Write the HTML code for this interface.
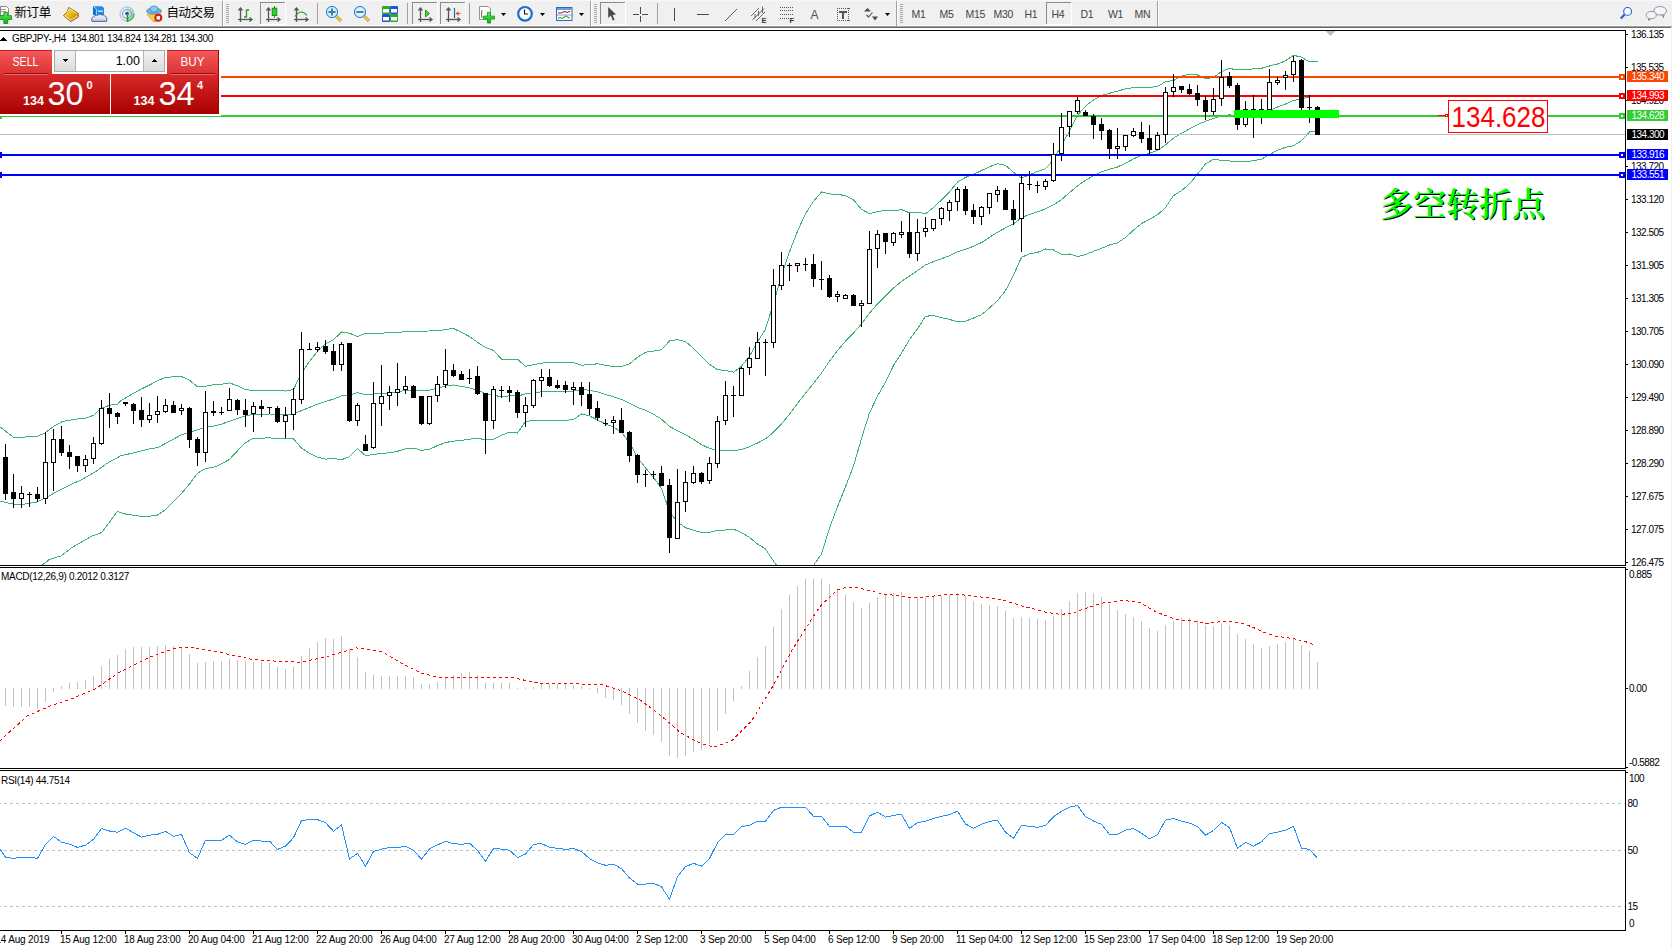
<!DOCTYPE html>
<html><head><meta charset="utf-8"><style>
html,body{margin:0;padding:0;width:1672px;height:949px;overflow:hidden;background:#fff}
svg{position:absolute;left:0;top:0;display:block}
</style></head><body>
<svg width="1672" height="949" viewBox="0 0 1672 949" shape-rendering="crispEdges">
<rect x="0" y="0" width="1672" height="25" fill="#f0f0f0" />
<rect x="0" y="25" width="1672" height="1" fill="#f8f8f8" />
<rect x="0" y="26" width="1672" height="1" fill="#a0a0a0" />
<rect x="0" y="27" width="1671" height="1" fill="#6a6a6a" />
<rect x="0" y="28" width="1672" height="2" fill="#ffffff" />
<g id="toolbar"><defs><pattern id="checker" width="2" height="2" patternUnits="userSpaceOnUse"><rect width="2" height="2" fill="#f7f7f7"/><rect width="1" height="1" fill="#e9e9e9"/><rect x="1" y="1" width="1" height="1" fill="#e9e9e9"/></pattern><linearGradient id="gold" x1="0" y1="0" x2="1" y2="1"><stop offset="0" stop-color="#fff080"/><stop offset="0.5" stop-color="#e8b818"/><stop offset="1" stop-color="#b07810"/></linearGradient><radialGradient id="lens"><stop offset="0" stop-color="#ffffff"/><stop offset="1" stop-color="#bfe4f8"/></radialGradient><linearGradient id="gplus" x1="0" y1="0" x2="0" y2="1"><stop offset="0" stop-color="#60f060"/><stop offset="1" stop-color="#10b010"/></linearGradient><linearGradient id="cloudg" x1="0" y1="0" x2="0" y2="1"><stop offset="0" stop-color="#ffffff"/><stop offset="1" stop-color="#b8c4d8"/></linearGradient><linearGradient id="sigg" x1="0" y1="0" x2="1" y2="1"><stop offset="0" stop-color="#e8f0e8"/><stop offset="1" stop-color="#90c890"/></linearGradient></defs>
<rect x="0" y="0" width="1672" height="1" fill="#f8f8f8"/>
<g shape-rendering="geometricPrecision">
<path d="M0.5,6.5 L6.5,6.5 L8.5,8.5 L8.5,15.5 L0.5,15.5 Z" fill="#fff" stroke="#888"/>
<rect x="1" y="9" width="5" height="1" fill="#999"/><rect x="1" y="11" width="5" height="1" fill="#999"/>
<path d="M3.8,12.4 H7.7 V15.7 H11.6 V19.5 H7.7 V23.5 H3.8 V19.5 H-0.5 V15.7 H3.8 Z" fill="url(#gplus)" stroke="#0a8a0a" stroke-width="0.8"/>
<text x="14.5" y="17.3" font-size="12.5" letter-spacing="-0.4" fill="#000" font-family='"Liberation Sans", "Noto Sans CJK SC", sans-serif'>新订单</text>
<path d="M68.7,7.4 L78,13.2 L78.6,16.8 L70.9,21.6 L63.4,15.6 L67.2,12 Z" fill="url(#gold)" stroke="#9a5a08" stroke-width="0.9"/>
<path d="M64.6,15.8 L71,20.2 L77.8,15.8" fill="none" stroke="#f3e6b0" stroke-width="1"/>
<path d="M67.4,12.2 L69.5,8.8 L76.5,13.4" fill="none" stroke="#fff4a0" stroke-width="0.8"/>
<path d="M93,6.3 L102,6.3 L104,8 L104,15 L93,15 Z" fill="#1b8cf0"/>
<path d="M93,6.3 L96.4,9 L96.4,15 L93,15 Z" fill="#0a6fd8"/>
<line x1="96.4" y1="9" x2="96.4" y2="15" stroke="#d8f0ff" stroke-width="0.8"/><line x1="93.5" y1="6.6" x2="96.4" y2="9" stroke="#d8f0ff" stroke-width="0.8"/>
<rect x="98" y="10.6" width="5" height="1.2" fill="#e8f6ff"/>
<path d="M92,21.4 Q90.6,17.8 93.6,17 Q94.5,14.6 97.5,15.3 Q99.5,13.4 102,15 Q103,14.2 104.5,15.8 Q107.6,16.5 106.6,21.4 Z" fill="url(#cloudg)" stroke="#3a5a9a" stroke-width="0.9"/>
<path d="M127,7 A7,7 0 0 1 127,21 Z" fill="url(#sigg)"/>
<circle cx="127" cy="14" r="7" fill="none" stroke="#9ab8e0" stroke-width="1"/>
<circle cx="127" cy="14" r="4.5" fill="none" stroke="#6a9ad8" stroke-width="1"/>
<path d="M127,21 A7,7 0 0 0 134,14" fill="none" stroke="#40b040" stroke-width="1.2"/>
<circle cx="127" cy="13.5" r="1.8" fill="#2050c0"/>
<line x1="127.5" y1="14" x2="127.5" y2="22" stroke="#20a020" stroke-width="1.6"/>
<path d="M147,14 L161,14 L156,21.5 L153,21.5 Z" fill="#f0d040" stroke="#c0a020" stroke-width="0.7"/>
<ellipse cx="154" cy="11" rx="7.5" ry="3" fill="#6ab4e8" stroke="#3a80c0" stroke-width="0.7"/>
<ellipse cx="154" cy="9" rx="4" ry="3" fill="#8ccaf0" stroke="#3a80c0" stroke-width="0.7"/>
<circle cx="158.3" cy="17.8" r="4" fill="#d82010"/><rect x="156.6" y="16.1" width="3.4" height="3.4" fill="#fff"/>
<text x="166.5" y="17.3" font-size="12.5" letter-spacing="-0.5" fill="#000" font-family='"Liberation Sans", "Noto Sans CJK SC", sans-serif'>自动交易</text>
</g>
<rect x="222" y="1" width="1" height="25" fill="#a0a0a0"/><rect x="223" y="1" width="1" height="25" fill="#ffffff"/>
<rect x="226" y="4" width="3" height="1" fill="#a8a8a8"/>
<rect x="226" y="6" width="3" height="1" fill="#a8a8a8"/>
<rect x="226" y="8" width="3" height="1" fill="#a8a8a8"/>
<rect x="226" y="10" width="3" height="1" fill="#a8a8a8"/>
<rect x="226" y="12" width="3" height="1" fill="#a8a8a8"/>
<rect x="226" y="14" width="3" height="1" fill="#a8a8a8"/>
<rect x="226" y="16" width="3" height="1" fill="#a8a8a8"/>
<rect x="226" y="18" width="3" height="1" fill="#a8a8a8"/>
<rect x="226" y="20" width="3" height="1" fill="#a8a8a8"/>
<rect x="226" y="22" width="3" height="1" fill="#a8a8a8"/>
<g shape-rendering="geometricPrecision">
<g stroke="#555" stroke-width="1.3" fill="none" shape-rendering="geometricPrecision"><line x1="240.5" y1="8.5" x2="240.5" y2="22"/><line x1="238.0" y1="19.5" x2="251.5" y2="19.5"/><path d="M238.5,10.5 L240.5,8 L242.5,10.5" /><path d="M249.5,17.5 L252.0,19.5 L249.5,21.5"/></g>
<path d="M246.5,9.5 L246.5,17.5 M244,17 L246.5,17 M246.5,10 L249,10" stroke="#1a9a1a" stroke-width="1.3" fill="none"/>
</g>
<rect x="260" y="2" width="25" height="22" fill="url(#checker)"/>
<rect x="260" y="2" width="25" height="1" fill="#8c8c8c"/>
<rect x="260" y="2" width="1" height="22" fill="#8c8c8c"/>
<rect x="260" y="24" width="26" height="1" fill="#ffffff"/>
<rect x="285" y="2" width="1" height="23" fill="#ffffff"/>
<g shape-rendering="geometricPrecision">
<g stroke="#555" stroke-width="1.3" fill="none" shape-rendering="geometricPrecision"><line x1="268.5" y1="8.5" x2="268.5" y2="22"/><line x1="266.0" y1="19.5" x2="279.5" y2="19.5"/><path d="M266.5,10.5 L268.5,8 L270.5,10.5" /><path d="M277.5,17.5 L280.0,19.5 L277.5,21.5"/></g>
<line x1="274.5" y1="6" x2="274.5" y2="17.5" stroke="#0a8a0a" stroke-width="1"/>
<rect x="272.2" y="8.2" width="4.6" height="7.4" fill="#30d030" stroke="#0a8a0a" stroke-width="0.9"/>
<g stroke="#555" stroke-width="1.3" fill="none" shape-rendering="geometricPrecision"><line x1="296.5" y1="8.5" x2="296.5" y2="22"/><line x1="294.0" y1="19.5" x2="307.5" y2="19.5"/><path d="M294.5,10.5 L296.5,8 L298.5,10.5" /><path d="M305.5,17.5 L308.0,19.5 L305.5,21.5"/></g>
<path d="M295,16.5 Q301,8 307,15.5" stroke="#1a9a1a" stroke-width="1.2" fill="none"/>
</g>
<rect x="317" y="3" width="1" height="21" fill="#a0a0a0"/>
<g shape-rendering="geometricPrecision">
<line x1="336" y1="16" x2="341" y2="21" stroke="#b08a10" stroke-width="3"/>
<line x1="336" y1="16" x2="341" y2="21" stroke="#f0d860" stroke-width="1.6"/>
<circle cx="332" cy="12" r="5.6" fill="url(#lens)" stroke="#2a78c8" stroke-width="1"/>
<rect x="328.5" y="11" width="7" height="2" fill="#3a80b0"/>
<rect x="331" y="8.5" width="2" height="7" fill="#3a80b0"/>
<line x1="364" y1="16" x2="369" y2="21" stroke="#b08a10" stroke-width="3"/>
<line x1="364" y1="16" x2="369" y2="21" stroke="#f0d860" stroke-width="1.6"/>
<circle cx="360" cy="12" r="5.6" fill="url(#lens)" stroke="#2a78c8" stroke-width="1"/>
<rect x="356.5" y="11" width="7" height="2" fill="#3a80b0"/>
<rect x="382" y="6" width="8" height="8" rx="1" fill="#2ea82e"/><rect x="390" y="6" width="8" height="8" rx="1" fill="#1e58d0"/>
<rect x="382" y="14" width="8" height="8" rx="1" fill="#1e58d0"/><rect x="390" y="14" width="8" height="8" rx="1" fill="#2ea82e"/>
<rect x="383" y="9" width="6" height="3.5" fill="#fff"/>
<rect x="391" y="9" width="6" height="3.5" fill="#fff"/>
<rect x="383" y="17" width="6" height="3.5" fill="#fff"/>
<rect x="391" y="17" width="6" height="3.5" fill="#fff"/>
</g>
<rect x="407" y="3" width="1" height="21" fill="#a0a0a0"/>
<rect x="412" y="2" width="25" height="22" fill="url(#checker)"/>
<rect x="412" y="2" width="25" height="1" fill="#8c8c8c"/>
<rect x="412" y="2" width="1" height="22" fill="#8c8c8c"/>
<rect x="412" y="24" width="26" height="1" fill="#ffffff"/>
<rect x="437" y="2" width="1" height="23" fill="#ffffff"/>
<g shape-rendering="geometricPrecision">
<g stroke="#555" stroke-width="1.3" fill="none" shape-rendering="geometricPrecision"><line x1="420.5" y1="8.5" x2="420.5" y2="22"/><line x1="418.0" y1="19.5" x2="431.5" y2="19.5"/><path d="M418.5,10.5 L420.5,8 L422.5,10.5" /><path d="M429.5,17.5 L432.0,19.5 L429.5,21.5"/></g>
<path d="M425.5,10 L429.5,13.5 L425.5,17 Z" fill="#40d040" stroke="#109010" stroke-width="0.8"/>
</g>
<rect x="440" y="2" width="25" height="22" fill="url(#checker)"/>
<rect x="440" y="2" width="25" height="1" fill="#8c8c8c"/>
<rect x="440" y="2" width="1" height="22" fill="#8c8c8c"/>
<rect x="440" y="24" width="26" height="1" fill="#ffffff"/>
<rect x="465" y="2" width="1" height="23" fill="#ffffff"/>
<g shape-rendering="geometricPrecision">
<g stroke="#555" stroke-width="1.3" fill="none" shape-rendering="geometricPrecision"><line x1="448.5" y1="8.5" x2="448.5" y2="22"/><line x1="446.0" y1="19.5" x2="459.5" y2="19.5"/><path d="M446.5,10.5 L448.5,8 L450.5,10.5" /><path d="M457.5,17.5 L460.0,19.5 L457.5,21.5"/></g>
<line x1="454.5" y1="8" x2="454.5" y2="18" stroke="#1a70b8" stroke-width="1.2"/>
<path d="M455.5,13.5 L459,11 L458,13 L460.5,13 L460.5,14 L458,14 L459,16 Z" fill="#e05010"/>
</g>
<rect x="469" y="3" width="1" height="21" fill="#a0a0a0"/>
<g shape-rendering="geometricPrecision">
<path d="M479.5,6.5 L488,6.5 L490.5,9 L490.5,19.5 L479.5,19.5 Z" fill="#fff" stroke="#888" stroke-width="0.9"/>
<path d="M482,10 q-1,4 0,8" stroke="#554" stroke-width="0.9" fill="none"/>
<path d="M487.5,12.3 h3 v3.8 h4 v3 h-4 v4 h-3 v-4 h-4 v-3 h4 Z" fill="url(#gplus)" stroke="#0a9a0a" stroke-width="0.8"/>
</g>
<path d="M501,13 L506,13 L503.5,16 Z" fill="#000" shape-rendering="geometricPrecision"/>
<g shape-rendering="geometricPrecision">
<circle cx="525" cy="13.8" r="6.8" fill="#fff" stroke="#1670d0" stroke-width="2.2"/>
<path d="M524.5,9.5 L524.5,14 L528,14" stroke="#111" stroke-width="1.1" fill="none"/>
</g>
<path d="M540,13 L545,13 L542.5,16 Z" fill="#000" shape-rendering="geometricPrecision"/>
<g shape-rendering="geometricPrecision">
<rect x="556.5" y="7.5" width="15.5" height="13" fill="#fff" stroke="#2a6ab8" stroke-width="1"/>
<rect x="557" y="8" width="15" height="2" fill="#6aa0e0"/>
<line x1="557" y1="15" x2="572" y2="15" stroke="#6a90c8" stroke-width="0.8"/>
<path d="M558,13 L561,13 L563,12 L565,11.5 L567,12.5 L570,11.3" stroke="#a01810" stroke-width="1" fill="none"/>
<path d="M558,18.5 L560,17.5 L562,18.5 L564,17.2 L566.5,16 L570,18.5" stroke="#189018" stroke-width="1" fill="none"/>
</g>
<path d="M579,13 L584,13 L581.5,16 Z" fill="#000" shape-rendering="geometricPrecision"/>
<rect x="590" y="1" width="1" height="25" fill="#a0a0a0"/><rect x="591" y="1" width="1" height="25" fill="#ffffff"/>
<rect x="594" y="4" width="3" height="1" fill="#a8a8a8"/>
<rect x="594" y="6" width="3" height="1" fill="#a8a8a8"/>
<rect x="594" y="8" width="3" height="1" fill="#a8a8a8"/>
<rect x="594" y="10" width="3" height="1" fill="#a8a8a8"/>
<rect x="594" y="12" width="3" height="1" fill="#a8a8a8"/>
<rect x="594" y="14" width="3" height="1" fill="#a8a8a8"/>
<rect x="594" y="16" width="3" height="1" fill="#a8a8a8"/>
<rect x="594" y="18" width="3" height="1" fill="#a8a8a8"/>
<rect x="594" y="20" width="3" height="1" fill="#a8a8a8"/>
<rect x="594" y="22" width="3" height="1" fill="#a8a8a8"/>
<rect x="600" y="2" width="25" height="22" fill="url(#checker)"/>
<rect x="600" y="2" width="25" height="1" fill="#8c8c8c"/>
<rect x="600" y="2" width="1" height="22" fill="#8c8c8c"/>
<rect x="600" y="24" width="26" height="1" fill="#ffffff"/>
<rect x="625" y="2" width="1" height="23" fill="#ffffff"/>
<g shape-rendering="geometricPrecision">
<path d="M608.2,7 L608.2,18 L610.8,15.6 L612.8,20.5 L614.6,19.7 L612.6,14.9 L616,14.6 Z" fill="#4a4a4a"/>
</g>
<rect x="640" y="7" width="1" height="6.5" fill="#4a4a4a"/><rect x="640" y="15.5" width="1" height="6.5" fill="#4a4a4a"/>
<rect x="633" y="14" width="6" height="1" fill="#4a4a4a"/><rect x="642" y="14" width="6" height="1" fill="#4a4a4a"/>
<rect x="657" y="3" width="1" height="21" fill="#a0a0a0"/>
<rect x="674" y="8" width="1" height="13" fill="#4a4a4a"/>
<rect x="697" y="14" width="12" height="1" fill="#4a4a4a"/>
<g shape-rendering="geometricPrecision">
<line x1="725" y1="21" x2="737" y2="9" stroke="#4a4a4a" stroke-width="0.9"/>
<line x1="751" y1="16" x2="759" y2="8" stroke="#4a4a4a" stroke-width="0.8"/>
<line x1="752.5" y1="20" x2="764" y2="8.5" stroke="#4a4a4a" stroke-width="0.9"/>
<line x1="756" y1="21" x2="765" y2="12" stroke="#4a4a4a" stroke-width="0.8"/>
<line x1="755" y1="14" x2="755" y2="18" stroke="#4a4a4a" stroke-width="0.8"/><line x1="758.5" y1="11" x2="758.5" y2="16" stroke="#4a4a4a" stroke-width="0.8"/><line x1="762.5" y1="6.5" x2="762.5" y2="13" stroke="#4a4a4a" stroke-width="0.8"/>
<text x="761.5" y="23" font-size="7.5" font-weight="bold" fill="#333" font-family='"Liberation Sans", "Noto Sans CJK SC", sans-serif'>E</text>
</g>
<rect x="780" y="7" width="1" height="1" fill="#555"/>
<rect x="782" y="7" width="1" height="1" fill="#555"/>
<rect x="784" y="7" width="1" height="1" fill="#555"/>
<rect x="786" y="7" width="1" height="1" fill="#555"/>
<rect x="788" y="7" width="1" height="1" fill="#555"/>
<rect x="790" y="7" width="1" height="1" fill="#555"/>
<rect x="792" y="7" width="1" height="1" fill="#555"/>
<rect x="780" y="10" width="1" height="1" fill="#555"/>
<rect x="782" y="10" width="1" height="1" fill="#555"/>
<rect x="784" y="10" width="1" height="1" fill="#555"/>
<rect x="786" y="10" width="1" height="1" fill="#555"/>
<rect x="788" y="10" width="1" height="1" fill="#555"/>
<rect x="790" y="10" width="1" height="1" fill="#555"/>
<rect x="792" y="10" width="1" height="1" fill="#555"/>
<rect x="780" y="14" width="1" height="1" fill="#555"/>
<rect x="782" y="14" width="1" height="1" fill="#555"/>
<rect x="784" y="14" width="1" height="1" fill="#555"/>
<rect x="786" y="14" width="1" height="1" fill="#555"/>
<rect x="788" y="14" width="1" height="1" fill="#555"/>
<rect x="790" y="14" width="1" height="1" fill="#555"/>
<rect x="792" y="14" width="1" height="1" fill="#555"/>
<rect x="780" y="18" width="1" height="1" fill="#555"/>
<rect x="782" y="18" width="1" height="1" fill="#555"/>
<rect x="784" y="18" width="1" height="1" fill="#555"/>
<rect x="786" y="18" width="1" height="1" fill="#555"/>
<rect x="788" y="18" width="1" height="1" fill="#555"/>
<text x="789.5" y="23" font-size="7.5" font-weight="bold" fill="#333" font-family='"Liberation Sans", "Noto Sans CJK SC", sans-serif'>F</text>
<text x="810.5" y="19" font-size="12" fill="#555" font-family='"Liberation Sans", "Noto Sans CJK SC", sans-serif'>A</text>
<rect x="837" y="8" width="1" height="1" fill="#555"/><rect x="837" y="20" width="1" height="1" fill="#555"/>
<rect x="839" y="8" width="1" height="1" fill="#555"/><rect x="839" y="20" width="1" height="1" fill="#555"/>
<rect x="841" y="8" width="1" height="1" fill="#555"/><rect x="841" y="20" width="1" height="1" fill="#555"/>
<rect x="843" y="8" width="1" height="1" fill="#555"/><rect x="843" y="20" width="1" height="1" fill="#555"/>
<rect x="845" y="8" width="1" height="1" fill="#555"/><rect x="845" y="20" width="1" height="1" fill="#555"/>
<rect x="847" y="8" width="1" height="1" fill="#555"/><rect x="847" y="20" width="1" height="1" fill="#555"/>
<rect x="849" y="8" width="1" height="1" fill="#555"/><rect x="849" y="20" width="1" height="1" fill="#555"/>
<rect x="837" y="8" width="1" height="1" fill="#555"/><rect x="848" y="8" width="1" height="1" fill="#555"/>
<rect x="837" y="10" width="1" height="1" fill="#555"/><rect x="848" y="10" width="1" height="1" fill="#555"/>
<rect x="837" y="12" width="1" height="1" fill="#555"/><rect x="848" y="12" width="1" height="1" fill="#555"/>
<rect x="837" y="14" width="1" height="1" fill="#555"/><rect x="848" y="14" width="1" height="1" fill="#555"/>
<rect x="837" y="16" width="1" height="1" fill="#555"/><rect x="848" y="16" width="1" height="1" fill="#555"/>
<rect x="837" y="18" width="1" height="1" fill="#555"/><rect x="848" y="18" width="1" height="1" fill="#555"/>
<rect x="837" y="20" width="1" height="1" fill="#555"/><rect x="848" y="20" width="1" height="1" fill="#555"/>
<rect x="839" y="11" width="8" height="1.5" fill="#555"/><rect x="842.2" y="11" width="1.6" height="8" fill="#555"/>
<g shape-rendering="geometricPrecision">
<path d="M864,11.5 L867.5,8 L871,11.5 Z" fill="#4a4a4a"/><path d="M872,16.5 L875,20.5 L878,16.5 Z" fill="#4a4a4a"/>
<path d="M866.5,15 L868.5,17 L872.5,12.5" stroke="#4a4a4a" stroke-width="1.1" fill="none"/>
</g>
<path d="M885,13 L890,13 L887.5,16 Z" fill="#000" shape-rendering="geometricPrecision"/>
<rect x="896" y="1" width="1" height="25" fill="#a0a0a0"/><rect x="897" y="1" width="1" height="25" fill="#ffffff"/>
<rect x="900" y="4" width="3" height="1" fill="#a8a8a8"/>
<rect x="900" y="6" width="3" height="1" fill="#a8a8a8"/>
<rect x="900" y="8" width="3" height="1" fill="#a8a8a8"/>
<rect x="900" y="10" width="3" height="1" fill="#a8a8a8"/>
<rect x="900" y="12" width="3" height="1" fill="#a8a8a8"/>
<rect x="900" y="14" width="3" height="1" fill="#a8a8a8"/>
<rect x="900" y="16" width="3" height="1" fill="#a8a8a8"/>
<rect x="900" y="18" width="3" height="1" fill="#a8a8a8"/>
<rect x="900" y="20" width="3" height="1" fill="#a8a8a8"/>
<rect x="900" y="22" width="3" height="1" fill="#a8a8a8"/>
<rect x="1046" y="2" width="25" height="22" fill="url(#checker)"/>
<rect x="1046" y="2" width="25" height="1" fill="#8c8c8c"/>
<rect x="1046" y="2" width="1" height="22" fill="#8c8c8c"/>
<rect x="1046" y="24" width="26" height="1" fill="#ffffff"/>
<rect x="1071" y="2" width="1" height="23" fill="#ffffff"/>
<text x="911.5" y="18" font-size="10.5" letter-spacing="-0.3" fill="#444" font-family='"Liberation Sans", "Noto Sans CJK SC", sans-serif'>M1</text>
<text x="939.5" y="18" font-size="10.5" letter-spacing="-0.3" fill="#444" font-family='"Liberation Sans", "Noto Sans CJK SC", sans-serif'>M5</text>
<text x="965.5" y="18" font-size="10.5" letter-spacing="-0.3" fill="#444" font-family='"Liberation Sans", "Noto Sans CJK SC", sans-serif'>M15</text>
<text x="993.5" y="18" font-size="10.5" letter-spacing="-0.3" fill="#444" font-family='"Liberation Sans", "Noto Sans CJK SC", sans-serif'>M30</text>
<text x="1024.5" y="18" font-size="10.5" letter-spacing="-0.3" fill="#444" font-family='"Liberation Sans", "Noto Sans CJK SC", sans-serif'>H1</text>
<text x="1051.5" y="18" font-size="10.5" letter-spacing="-0.3" fill="#444" font-family='"Liberation Sans", "Noto Sans CJK SC", sans-serif'>H4</text>
<text x="1080.5" y="18" font-size="10.5" letter-spacing="-0.3" fill="#444" font-family='"Liberation Sans", "Noto Sans CJK SC", sans-serif'>D1</text>
<text x="1108" y="18" font-size="10.5" letter-spacing="-0.3" fill="#444" font-family='"Liberation Sans", "Noto Sans CJK SC", sans-serif'>W1</text>
<text x="1134.5" y="18" font-size="10.5" letter-spacing="-0.3" fill="#444" font-family='"Liberation Sans", "Noto Sans CJK SC", sans-serif'>MN</text>
<rect x="1157" y="1" width="1" height="25" fill="#a0a0a0"/><rect x="1158" y="1" width="1" height="25" fill="#ffffff"/>
<g shape-rendering="geometricPrecision">
<circle cx="1627.6" cy="11.4" r="3.9" fill="#fff" stroke="#2060d0" stroke-width="1.1"/>
<line x1="1624.6" y1="14.6" x2="1620.8" y2="18.6" stroke="#2060d0" stroke-width="2.2"/>
<ellipse cx="1660.1" cy="10.8" rx="6.4" ry="4.3" fill="#f4f4fa" stroke="#8a8a8a" stroke-width="0.9"/>
<path d="M1662,14.5 L1663.5,17.5 L1664,14" fill="#f4f4fa" stroke="#6a6a6a" stroke-width="0.8"/>
<ellipse cx="1651.2" cy="15.1" rx="5.1" ry="3.7" fill="#f4f4fa" stroke="#8a8a8a" stroke-width="0.9"/>
<path d="M1649,18 L1648.5,20.5 L1651,18.5" fill="#f4f4fa" stroke="#6a6a6a" stroke-width="0.8"/>
</g></g>
<rect x="0" y="30" width="1626" height="1" fill="#000" />
<rect x="0" y="565" width="1626" height="1" fill="#000" />
<rect x="1625" y="30" width="1" height="536" fill="#000" />
<rect x="0" y="567" width="1626" height="1" fill="#000" />
<rect x="0" y="768" width="1626" height="1" fill="#000" />
<rect x="1625" y="567" width="1" height="202" fill="#000" />
<rect x="0" y="770" width="1626" height="1" fill="#000" />
<rect x="0" y="930" width="1626" height="1" fill="#000" />
<rect x="1625" y="770" width="1" height="161" fill="#000" />
<rect x="1671" y="27" width="1" height="922" fill="#f0f0f0" />
<defs><clipPath id="cm"><rect x="0" y="31" width="1625" height="534"/></clipPath><clipPath id="cmacd"><rect x="0" y="568" width="1625" height="200"/></clipPath><clipPath id="crsi"><rect x="0" y="771" width="1625" height="159"/></clipPath></defs>
<g clip-path="url(#cm)">
<polyline points="0.0,426.8 13.0,437.0 24.7,437.0 38.0,436.0 45.0,433.0 55.0,425.4 63.0,421.3 76.7,419.0 86.0,418.0 94.5,414.9 100.0,408.6 109.6,405.3 117.8,404.0 120.0,401.3 130.5,395.0 141.0,389.2 151.6,384.0 157.5,380.7 165.5,377.3 173.5,376.9 181.5,376.5 189.5,380.3 197.5,386.7 205.5,386.2 213.5,384.8 221.5,384.2 229.5,382.9 237.5,385.9 245.5,389.6 253.5,390.5 261.5,390.6 269.5,390.1 277.5,390.1 285.5,391.1 293.5,389.5 301.5,373.2 309.5,361.4 317.5,351.2 325.5,343.9 333.5,339.7 341.5,332.0 349.5,333.2 357.5,336.5 365.5,333.4 373.5,333.4 381.5,333.1 389.5,332.8 397.5,332.3 405.5,331.8 413.5,331.7 421.5,331.1 429.5,331.0 437.5,330.9 445.5,329.5 453.5,328.5 461.5,332.4 469.5,336.5 477.5,342.3 485.5,347.4 493.5,350.4 501.5,359.1 509.5,359.3 517.5,359.2 525.5,366.3 533.5,364.8 541.5,363.1 549.5,362.7 557.5,362.6 565.5,362.9 573.5,362.5 581.5,365.2 589.5,364.6 597.5,363.8 605.5,365.2 613.5,366.7 621.5,366.6 629.5,363.8 637.5,357.3 645.5,352.3 653.5,351.1 661.5,349.8 669.5,341.0 677.5,339.6 685.5,341.6 693.5,348.4 701.5,356.6 709.5,364.4 717.5,369.6 725.5,370.6 733.5,372.2 741.5,366.2 749.5,356.1 757.5,342.0 765.5,329.0 773.5,303.4 781.5,275.9 789.5,251.9 797.5,231.2 805.5,213.7 813.5,201.4 821.5,192.0 829.5,193.9 837.5,194.4 845.5,195.6 853.5,199.8 861.5,209.4 869.5,213.6 877.5,211.6 885.5,210.3 893.5,210.9 901.5,209.6 909.5,212.8 917.5,212.3 925.5,213.7 933.5,207.6 941.5,199.9 949.5,191.9 957.5,182.1 965.5,177.4 973.5,174.4 981.5,170.5 989.5,166.8 997.5,163.7 1005.5,165.3 1013.5,172.2 1021.5,178.0 1029.5,174.9 1037.5,171.5 1045.5,168.8 1053.5,159.9 1061.5,145.0 1069.5,131.1 1077.5,115.3 1085.5,106.2 1093.5,100.0 1101.5,95.3 1109.5,93.3 1117.5,91.1 1125.5,88.9 1133.5,87.7 1141.5,87.4 1149.5,87.4 1157.5,86.4 1165.5,81.8 1173.5,80.5 1181.5,76.1 1189.5,74.1 1197.5,75.0 1205.5,78.6 1213.5,77.6 1221.5,71.5 1229.5,68.4 1237.5,70.0 1245.5,69.5 1253.5,68.9 1261.5,68.3 1269.5,66.0 1277.5,64.0 1285.5,60.8 1293.5,55.3 1301.5,57.2 1309.5,61.9 1317.5,61.9" fill="none" stroke="#3cb371" stroke-width="1" />
<polyline points="0.0,501.2 13.5,504.2 21.0,504.7 37.4,502.0 44.9,498.2 59.8,490.0 68.5,485.7 82.0,479.5 96.0,471.3 109.6,461.7 117.8,457.6 120.0,456.1 130.5,453.5 141.0,451.1 151.6,448.2 157.5,447.9 165.5,443.4 173.5,439.1 181.5,434.9 189.5,432.2 197.5,429.9 205.5,427.4 213.5,426.1 221.5,424.1 229.5,421.1 237.5,418.4 245.5,416.1 253.5,414.3 261.5,414.4 269.5,414.0 277.5,414.2 285.5,414.8 293.5,414.2 301.5,410.6 309.5,407.4 317.5,404.1 325.5,401.5 333.5,399.1 341.5,395.9 349.5,394.9 357.5,392.6 365.5,394.5 373.5,394.0 381.5,393.2 389.5,392.9 397.5,391.8 405.5,390.4 413.5,389.9 421.5,390.7 429.5,390.1 437.5,388.2 445.5,386.0 453.5,384.9 461.5,386.4 469.5,387.9 477.5,390.2 485.5,393.6 493.5,394.9 501.5,397.1 509.5,395.8 517.5,396.1 525.5,393.9 533.5,392.7 541.5,391.8 549.5,391.4 557.5,391.4 565.5,391.6 573.5,391.1 581.5,389.6 589.5,390.2 597.5,391.9 605.5,394.6 613.5,396.8 621.5,399.4 629.5,403.4 637.5,407.4 645.5,410.1 653.5,414.3 661.5,419.1 669.5,426.4 677.5,430.8 685.5,434.6 693.5,439.3 701.5,444.6 709.5,448.4 717.5,450.1 725.5,450.3 733.5,450.7 741.5,449.4 749.5,446.8 757.5,443.0 765.5,438.9 773.5,432.2 781.5,423.8 789.5,414.2 797.5,403.6 805.5,393.1 813.5,383.4 821.5,373.1 829.5,361.0 837.5,350.6 845.5,341.2 853.5,332.9 861.5,323.9 869.5,313.2 877.5,303.9 885.5,296.2 893.5,288.1 901.5,281.4 909.5,276.1 917.5,270.6 925.5,264.9 933.5,261.6 941.5,258.8 949.5,255.7 957.5,251.9 965.5,249.3 973.5,246.2 981.5,242.6 989.5,237.4 997.5,232.2 1005.5,227.9 1013.5,223.7 1021.5,217.7 1029.5,214.4 1037.5,211.9 1045.5,208.9 1053.5,204.9 1061.5,199.7 1069.5,192.6 1077.5,185.9 1085.5,180.3 1093.5,175.7 1101.5,171.8 1109.5,169.2 1117.5,167.0 1125.5,163.2 1133.5,158.9 1141.5,155.5 1149.5,153.3 1157.5,150.6 1165.5,144.7 1173.5,138.1 1181.5,133.4 1189.5,128.9 1197.5,124.7 1205.5,121.2 1213.5,118.5 1221.5,116.0 1229.5,114.7 1237.5,116.0 1245.5,115.6 1253.5,114.8 1261.5,113.7 1269.5,110.3 1277.5,107.0 1285.5,104.0 1293.5,100.5 1301.5,99.0 1309.5,96.8 1317.5,96.8" fill="none" stroke="#3cb371" stroke-width="1" />
<polyline points="41.1,566.0 49.3,559.5 61.3,555.8 71.8,547.6 83.7,540.8 91.2,536.4 101.7,532.6 117.4,511.4 124.8,513.9 142.0,516.5 150.0,516.2 157.5,515.1 165.5,509.6 173.5,501.4 181.5,493.3 189.5,484.1 197.5,473.1 205.5,468.6 213.5,467.4 221.5,463.9 229.5,459.4 237.5,450.8 245.5,442.7 253.5,438.1 261.5,438.1 269.5,437.9 277.5,438.4 285.5,438.5 293.5,438.9 301.5,448.1 309.5,453.3 317.5,457.1 325.5,459.1 333.5,458.5 341.5,459.8 349.5,456.7 357.5,448.6 365.5,455.6 373.5,454.6 381.5,453.3 389.5,452.9 397.5,451.3 405.5,448.9 413.5,448.2 421.5,450.3 429.5,449.3 437.5,445.6 445.5,442.5 453.5,441.2 461.5,440.4 469.5,439.2 477.5,438.1 485.5,439.9 493.5,439.3 501.5,435.2 509.5,432.2 517.5,433.1 525.5,421.4 533.5,420.6 541.5,420.4 549.5,420.2 557.5,420.2 565.5,420.3 573.5,419.6 581.5,414.0 589.5,415.9 597.5,420.1 605.5,424.0 613.5,426.9 621.5,432.3 629.5,442.9 637.5,457.5 645.5,467.8 653.5,477.5 661.5,488.4 669.5,511.7 677.5,522.0 685.5,527.7 693.5,530.2 701.5,532.5 709.5,532.4 717.5,530.5 725.5,530.0 733.5,529.2 741.5,532.5 749.5,537.5 757.5,544.0 765.5,548.9 773.5,561.0 781.5,571.7 789.5,576.6 797.5,576.1 805.5,572.6 813.5,565.4 821.5,554.1 829.5,528.1 837.5,506.8 845.5,486.9 853.5,466.0 861.5,438.5 869.5,412.9 877.5,396.2 885.5,382.2 893.5,365.4 901.5,353.1 909.5,339.5 917.5,329.0 925.5,316.2 933.5,315.7 941.5,317.7 949.5,319.4 957.5,321.8 965.5,321.2 973.5,318.0 981.5,314.7 989.5,308.0 997.5,300.7 1005.5,290.6 1013.5,275.1 1021.5,257.3 1029.5,253.9 1037.5,252.4 1045.5,249.0 1053.5,250.0 1061.5,254.4 1069.5,254.0 1077.5,256.6 1085.5,254.5 1093.5,251.3 1101.5,248.3 1109.5,245.0 1117.5,242.9 1125.5,237.5 1133.5,230.1 1141.5,223.6 1149.5,219.3 1157.5,214.8 1165.5,207.6 1173.5,195.6 1181.5,190.7 1189.5,183.7 1197.5,174.3 1205.5,163.8 1213.5,159.3 1221.5,160.4 1229.5,161.0 1237.5,161.9 1245.5,161.7 1253.5,160.7 1261.5,159.1 1269.5,154.7 1277.5,150.1 1285.5,147.3 1293.5,145.8 1301.5,140.8 1309.5,131.8 1317.5,131.8" fill="none" stroke="#3cb371" stroke-width="1" />
<rect x="0" y="134" width="1625" height="1" fill="#c0c0c0" />
<rect x="0" y="76" width="1625" height="2" fill="#ff4500" />
<rect x="0" y="95" width="1625" height="2" fill="#ff0000" />
<rect x="0" y="115" width="1625" height="2" fill="#32cd32" />
<rect x="0" y="154" width="1625" height="2" fill="#0000ff" />
<rect x="0" y="174" width="1625" height="2" fill="#0000ff" />
<rect x="5" y="444" width="1" height="56" fill="#000" />
<rect x="3" y="457" width="5" height="37" fill="#000" />
<rect x="13" y="474" width="1" height="34" fill="#000" />
<rect x="11" y="492" width="5" height="7" fill="#000" />
<rect x="21" y="486" width="1" height="22" fill="#000" />
<rect x="19" y="493" width="5" height="6" fill="#000" />
<rect x="20" y="494" width="3" height="4" fill="#fff" />
<rect x="29" y="492" width="1" height="15" fill="#000" />
<rect x="27" y="494" width="5" height="1" fill="#000" />
<rect x="37" y="487" width="1" height="15" fill="#000" />
<rect x="35" y="494" width="5" height="5" fill="#000" />
<rect x="45" y="432" width="1" height="72" fill="#000" />
<rect x="43" y="462" width="5" height="37" fill="#000" />
<rect x="44" y="463" width="3" height="35" fill="#fff" />
<rect x="53" y="429" width="1" height="62" fill="#000" />
<rect x="51" y="439" width="5" height="24" fill="#000" />
<rect x="52" y="440" width="3" height="22" fill="#fff" />
<rect x="61" y="426" width="1" height="30" fill="#000" />
<rect x="59" y="439" width="5" height="14" fill="#000" />
<rect x="69" y="445" width="1" height="24" fill="#000" />
<rect x="67" y="452" width="5" height="5" fill="#000" />
<rect x="77" y="456" width="1" height="16" fill="#000" />
<rect x="75" y="456" width="5" height="10" fill="#000" />
<rect x="85" y="455" width="1" height="17" fill="#000" />
<rect x="83" y="459" width="5" height="7" fill="#000" />
<rect x="84" y="460" width="3" height="5" fill="#fff" />
<rect x="93" y="437" width="1" height="27" fill="#000" />
<rect x="91" y="443" width="5" height="16" fill="#000" />
<rect x="92" y="444" width="3" height="14" fill="#fff" />
<rect x="101" y="400" width="1" height="45" fill="#000" />
<rect x="99" y="408" width="5" height="36" fill="#000" />
<rect x="100" y="409" width="3" height="34" fill="#fff" />
<rect x="109" y="393" width="1" height="35" fill="#000" />
<rect x="107" y="408" width="5" height="6" fill="#000" />
<rect x="117" y="412" width="1" height="12" fill="#000" />
<rect x="115" y="413" width="5" height="4" fill="#000" />
<rect x="125" y="402" width="1" height="4" fill="#000" />
<rect x="123" y="402" width="5" height="2" fill="#000" />
<rect x="133" y="403" width="1" height="21" fill="#000" />
<rect x="131" y="404" width="5" height="7" fill="#000" />
<rect x="141" y="397" width="1" height="30" fill="#000" />
<rect x="139" y="410" width="5" height="10" fill="#000" />
<rect x="149" y="403" width="1" height="20" fill="#000" />
<rect x="147" y="415" width="5" height="5" fill="#000" />
<rect x="148" y="416" width="3" height="3" fill="#fff" />
<rect x="157" y="396" width="1" height="27" fill="#000" />
<rect x="155" y="411" width="5" height="4" fill="#000" />
<rect x="156" y="412" width="3" height="2" fill="#fff" />
<rect x="165" y="399" width="1" height="14" fill="#000" />
<rect x="163" y="405" width="5" height="7" fill="#000" />
<rect x="164" y="406" width="3" height="5" fill="#fff" />
<rect x="173" y="401" width="1" height="12" fill="#000" />
<rect x="171" y="405" width="5" height="8" fill="#000" />
<rect x="181" y="404" width="1" height="11" fill="#000" />
<rect x="179" y="408" width="5" height="3" fill="#000" />
<rect x="180" y="409" width="3" height="1" fill="#fff" />
<rect x="189" y="407" width="1" height="41" fill="#000" />
<rect x="187" y="408" width="5" height="32" fill="#000" />
<rect x="197" y="437" width="1" height="29" fill="#000" />
<rect x="195" y="439" width="5" height="14" fill="#000" />
<rect x="205" y="391" width="1" height="71" fill="#000" />
<rect x="203" y="412" width="5" height="41" fill="#000" />
<rect x="204" y="413" width="3" height="39" fill="#fff" />
<rect x="213" y="401" width="1" height="15" fill="#000" />
<rect x="211" y="411" width="5" height="2" fill="#000" />
<rect x="221" y="407" width="1" height="8" fill="#000" />
<rect x="219" y="412" width="5" height="1" fill="#000" />
<rect x="229" y="388" width="1" height="23" fill="#000" />
<rect x="227" y="399" width="5" height="12" fill="#000" />
<rect x="228" y="400" width="3" height="10" fill="#fff" />
<rect x="237" y="399" width="1" height="16" fill="#000" />
<rect x="235" y="400" width="5" height="10" fill="#000" />
<rect x="245" y="399" width="1" height="28" fill="#000" />
<rect x="243" y="410" width="5" height="5" fill="#000" />
<rect x="253" y="402" width="1" height="30" fill="#000" />
<rect x="251" y="406" width="5" height="8" fill="#000" />
<rect x="252" y="407" width="3" height="6" fill="#fff" />
<rect x="261" y="400" width="1" height="17" fill="#000" />
<rect x="259" y="406" width="5" height="3" fill="#000" />
<rect x="269" y="407" width="1" height="7" fill="#000" />
<rect x="267" y="407" width="5" height="1" fill="#000" />
<rect x="277" y="406" width="1" height="17" fill="#000" />
<rect x="275" y="408" width="5" height="14" fill="#000" />
<rect x="285" y="407" width="1" height="31" fill="#000" />
<rect x="283" y="415" width="5" height="7" fill="#000" />
<rect x="284" y="416" width="3" height="5" fill="#fff" />
<rect x="293" y="388" width="1" height="42" fill="#000" />
<rect x="291" y="399" width="5" height="16" fill="#000" />
<rect x="292" y="400" width="3" height="14" fill="#fff" />
<rect x="301" y="332" width="1" height="72" fill="#000" />
<rect x="299" y="349" width="5" height="51" fill="#000" />
<rect x="300" y="350" width="3" height="49" fill="#fff" />
<rect x="309" y="343" width="1" height="7" fill="#000" />
<rect x="307" y="349" width="5" height="1" fill="#000" />
<rect x="317" y="342" width="1" height="10" fill="#000" />
<rect x="315" y="347" width="5" height="3" fill="#000" />
<rect x="316" y="348" width="3" height="1" fill="#fff" />
<rect x="325" y="340" width="1" height="14" fill="#000" />
<rect x="323" y="346" width="5" height="6" fill="#000" />
<rect x="333" y="344" width="1" height="27" fill="#000" />
<rect x="331" y="351" width="5" height="14" fill="#000" />
<rect x="341" y="342" width="1" height="29" fill="#000" />
<rect x="339" y="344" width="5" height="21" fill="#000" />
<rect x="340" y="345" width="3" height="19" fill="#fff" />
<rect x="349" y="343" width="1" height="79" fill="#000" />
<rect x="347" y="343" width="5" height="78" fill="#000" />
<rect x="357" y="403" width="1" height="23" fill="#000" />
<rect x="355" y="405" width="5" height="16" fill="#000" />
<rect x="356" y="406" width="3" height="14" fill="#fff" />
<rect x="365" y="435" width="1" height="16" fill="#000" />
<rect x="363" y="444" width="5" height="7" fill="#000" />
<rect x="373" y="382" width="1" height="67" fill="#000" />
<rect x="371" y="403" width="5" height="45" fill="#000" />
<rect x="372" y="404" width="3" height="43" fill="#fff" />
<rect x="381" y="365" width="1" height="61" fill="#000" />
<rect x="379" y="396" width="5" height="8" fill="#000" />
<rect x="380" y="397" width="3" height="6" fill="#fff" />
<rect x="389" y="386" width="1" height="24" fill="#000" />
<rect x="387" y="392" width="5" height="4" fill="#000" />
<rect x="388" y="393" width="3" height="2" fill="#fff" />
<rect x="397" y="363" width="1" height="43" fill="#000" />
<rect x="395" y="389" width="5" height="4" fill="#000" />
<rect x="396" y="390" width="3" height="2" fill="#fff" />
<rect x="405" y="376" width="1" height="18" fill="#000" />
<rect x="403" y="386" width="5" height="4" fill="#000" />
<rect x="404" y="387" width="3" height="2" fill="#fff" />
<rect x="413" y="385" width="1" height="13" fill="#000" />
<rect x="411" y="386" width="5" height="12" fill="#000" />
<rect x="421" y="396" width="1" height="29" fill="#000" />
<rect x="419" y="396" width="5" height="28" fill="#000" />
<rect x="429" y="396" width="1" height="29" fill="#000" />
<rect x="427" y="396" width="5" height="28" fill="#000" />
<rect x="428" y="397" width="3" height="26" fill="#fff" />
<rect x="437" y="376" width="1" height="26" fill="#000" />
<rect x="435" y="384" width="5" height="12" fill="#000" />
<rect x="436" y="385" width="3" height="10" fill="#fff" />
<rect x="445" y="349" width="1" height="39" fill="#000" />
<rect x="443" y="370" width="5" height="15" fill="#000" />
<rect x="444" y="371" width="3" height="13" fill="#fff" />
<rect x="453" y="364" width="1" height="13" fill="#000" />
<rect x="451" y="370" width="5" height="6" fill="#000" />
<rect x="461" y="371" width="1" height="9" fill="#000" />
<rect x="459" y="374" width="5" height="6" fill="#000" />
<rect x="469" y="369" width="1" height="15" fill="#000" />
<rect x="467" y="378" width="5" height="1" fill="#000" />
<rect x="477" y="366" width="1" height="29" fill="#000" />
<rect x="475" y="376" width="5" height="18" fill="#000" />
<rect x="485" y="393" width="1" height="61" fill="#000" />
<rect x="483" y="393" width="5" height="28" fill="#000" />
<rect x="493" y="386" width="1" height="43" fill="#000" />
<rect x="491" y="389" width="5" height="32" fill="#000" />
<rect x="492" y="390" width="3" height="30" fill="#fff" />
<rect x="501" y="386" width="1" height="12" fill="#000" />
<rect x="499" y="390" width="5" height="1" fill="#000" />
<rect x="509" y="386" width="1" height="16" fill="#000" />
<rect x="507" y="390" width="5" height="3" fill="#000" />
<rect x="517" y="390" width="1" height="28" fill="#000" />
<rect x="515" y="392" width="5" height="21" fill="#000" />
<rect x="525" y="397" width="1" height="30" fill="#000" />
<rect x="523" y="405" width="5" height="8" fill="#000" />
<rect x="524" y="406" width="3" height="6" fill="#fff" />
<rect x="533" y="379" width="1" height="29" fill="#000" />
<rect x="531" y="380" width="5" height="26" fill="#000" />
<rect x="532" y="381" width="3" height="24" fill="#fff" />
<rect x="541" y="369" width="1" height="28" fill="#000" />
<rect x="539" y="377" width="5" height="4" fill="#000" />
<rect x="540" y="378" width="3" height="2" fill="#fff" />
<rect x="549" y="369" width="1" height="18" fill="#000" />
<rect x="547" y="377" width="5" height="9" fill="#000" />
<rect x="557" y="380" width="1" height="9" fill="#000" />
<rect x="555" y="385" width="5" height="3" fill="#000" />
<rect x="565" y="381" width="1" height="12" fill="#000" />
<rect x="563" y="385" width="5" height="5" fill="#000" />
<rect x="573" y="382" width="1" height="23" fill="#000" />
<rect x="571" y="387" width="5" height="3" fill="#000" />
<rect x="572" y="388" width="3" height="1" fill="#fff" />
<rect x="581" y="382" width="1" height="24" fill="#000" />
<rect x="579" y="387" width="5" height="8" fill="#000" />
<rect x="589" y="382" width="1" height="33" fill="#000" />
<rect x="587" y="394" width="5" height="15" fill="#000" />
<rect x="597" y="401" width="1" height="20" fill="#000" />
<rect x="595" y="408" width="5" height="10" fill="#000" />
<rect x="605" y="419" width="1" height="7" fill="#000" />
<rect x="603" y="423" width="5" height="1" fill="#000" />
<rect x="613" y="416" width="1" height="18" fill="#000" />
<rect x="611" y="420" width="5" height="3" fill="#000" />
<rect x="612" y="421" width="3" height="1" fill="#fff" />
<rect x="621" y="408" width="1" height="25" fill="#000" />
<rect x="619" y="420" width="5" height="13" fill="#000" />
<rect x="629" y="431" width="1" height="31" fill="#000" />
<rect x="627" y="432" width="5" height="24" fill="#000" />
<rect x="637" y="454" width="1" height="29" fill="#000" />
<rect x="635" y="455" width="5" height="20" fill="#000" />
<rect x="645" y="470" width="1" height="17" fill="#000" />
<rect x="643" y="474" width="5" height="1" fill="#000" />
<rect x="653" y="471" width="1" height="8" fill="#000" />
<rect x="651" y="474" width="5" height="1" fill="#000" />
<rect x="661" y="466" width="1" height="20" fill="#000" />
<rect x="659" y="473" width="5" height="13" fill="#000" />
<rect x="669" y="479" width="1" height="74" fill="#000" />
<rect x="667" y="485" width="5" height="53" fill="#000" />
<rect x="677" y="469" width="1" height="70" fill="#000" />
<rect x="675" y="502" width="5" height="37" fill="#000" />
<rect x="676" y="503" width="3" height="35" fill="#fff" />
<rect x="685" y="471" width="1" height="41" fill="#000" />
<rect x="683" y="482" width="5" height="20" fill="#000" />
<rect x="684" y="483" width="3" height="18" fill="#fff" />
<rect x="693" y="466" width="1" height="18" fill="#000" />
<rect x="691" y="473" width="5" height="10" fill="#000" />
<rect x="692" y="474" width="3" height="8" fill="#fff" />
<rect x="701" y="472" width="1" height="12" fill="#000" />
<rect x="699" y="473" width="5" height="9" fill="#000" />
<rect x="709" y="457" width="1" height="27" fill="#000" />
<rect x="707" y="463" width="5" height="18" fill="#000" />
<rect x="708" y="464" width="3" height="16" fill="#fff" />
<rect x="717" y="416" width="1" height="52" fill="#000" />
<rect x="715" y="421" width="5" height="43" fill="#000" />
<rect x="716" y="422" width="3" height="41" fill="#fff" />
<rect x="725" y="381" width="1" height="44" fill="#000" />
<rect x="723" y="395" width="5" height="26" fill="#000" />
<rect x="724" y="396" width="3" height="24" fill="#fff" />
<rect x="733" y="386" width="1" height="31" fill="#000" />
<rect x="731" y="395" width="5" height="1" fill="#000" />
<rect x="741" y="367" width="1" height="29" fill="#000" />
<rect x="739" y="368" width="5" height="28" fill="#000" />
<rect x="740" y="369" width="3" height="26" fill="#fff" />
<rect x="749" y="347" width="1" height="28" fill="#000" />
<rect x="747" y="358" width="5" height="10" fill="#000" />
<rect x="748" y="359" width="3" height="8" fill="#fff" />
<rect x="757" y="332" width="1" height="27" fill="#000" />
<rect x="755" y="342" width="5" height="17" fill="#000" />
<rect x="756" y="343" width="3" height="15" fill="#fff" />
<rect x="765" y="339" width="1" height="37" fill="#000" />
<rect x="763" y="342" width="5" height="1" fill="#000" />
<rect x="773" y="269" width="1" height="79" fill="#000" />
<rect x="771" y="285" width="5" height="58" fill="#000" />
<rect x="772" y="286" width="3" height="56" fill="#fff" />
<rect x="781" y="252" width="1" height="38" fill="#000" />
<rect x="779" y="265" width="5" height="21" fill="#000" />
<rect x="780" y="266" width="3" height="19" fill="#fff" />
<rect x="789" y="263" width="1" height="18" fill="#000" />
<rect x="787" y="265" width="5" height="1" fill="#000" />
<rect x="797" y="263" width="1" height="9" fill="#000" />
<rect x="795" y="263" width="5" height="3" fill="#000" />
<rect x="796" y="264" width="3" height="1" fill="#fff" />
<rect x="805" y="258" width="1" height="13" fill="#000" />
<rect x="803" y="264" width="5" height="1" fill="#000" />
<rect x="813" y="254" width="1" height="33" fill="#000" />
<rect x="811" y="264" width="5" height="15" fill="#000" />
<rect x="821" y="261" width="1" height="29" fill="#000" />
<rect x="819" y="279" width="5" height="1" fill="#000" />
<rect x="829" y="275" width="1" height="23" fill="#000" />
<rect x="827" y="278" width="5" height="19" fill="#000" />
<rect x="837" y="291" width="1" height="11" fill="#000" />
<rect x="835" y="294" width="5" height="3" fill="#000" />
<rect x="836" y="295" width="3" height="1" fill="#fff" />
<rect x="845" y="294" width="1" height="5" fill="#000" />
<rect x="843" y="295" width="5" height="4" fill="#000" />
<rect x="844" y="296" width="3" height="2" fill="#fff" />
<rect x="853" y="294" width="1" height="12" fill="#000" />
<rect x="851" y="295" width="5" height="11" fill="#000" />
<rect x="861" y="300" width="1" height="27" fill="#000" />
<rect x="859" y="303" width="5" height="3" fill="#000" />
<rect x="860" y="304" width="3" height="1" fill="#fff" />
<rect x="869" y="231" width="1" height="73" fill="#000" />
<rect x="867" y="249" width="5" height="55" fill="#000" />
<rect x="868" y="250" width="3" height="53" fill="#fff" />
<rect x="877" y="230" width="1" height="38" fill="#000" />
<rect x="875" y="234" width="5" height="15" fill="#000" />
<rect x="876" y="235" width="3" height="13" fill="#fff" />
<rect x="885" y="233" width="1" height="21" fill="#000" />
<rect x="883" y="233" width="5" height="9" fill="#000" />
<rect x="893" y="232" width="1" height="14" fill="#000" />
<rect x="891" y="233" width="5" height="10" fill="#000" />
<rect x="892" y="234" width="3" height="8" fill="#fff" />
<rect x="901" y="221" width="1" height="17" fill="#000" />
<rect x="899" y="232" width="5" height="3" fill="#000" />
<rect x="900" y="233" width="3" height="1" fill="#fff" />
<rect x="909" y="213" width="1" height="45" fill="#000" />
<rect x="907" y="232" width="5" height="22" fill="#000" />
<rect x="917" y="219" width="1" height="42" fill="#000" />
<rect x="915" y="232" width="5" height="22" fill="#000" />
<rect x="916" y="233" width="3" height="20" fill="#fff" />
<rect x="925" y="217" width="1" height="20" fill="#000" />
<rect x="923" y="228" width="5" height="4" fill="#000" />
<rect x="924" y="229" width="3" height="2" fill="#fff" />
<rect x="933" y="219" width="1" height="12" fill="#000" />
<rect x="931" y="219" width="5" height="10" fill="#000" />
<rect x="932" y="220" width="3" height="8" fill="#fff" />
<rect x="941" y="207" width="1" height="18" fill="#000" />
<rect x="939" y="208" width="5" height="11" fill="#000" />
<rect x="940" y="209" width="3" height="9" fill="#fff" />
<rect x="949" y="200" width="1" height="21" fill="#000" />
<rect x="947" y="202" width="5" height="9" fill="#000" />
<rect x="948" y="203" width="3" height="7" fill="#fff" />
<rect x="957" y="187" width="1" height="24" fill="#000" />
<rect x="955" y="189" width="5" height="13" fill="#000" />
<rect x="956" y="190" width="3" height="11" fill="#fff" />
<rect x="965" y="186" width="1" height="29" fill="#000" />
<rect x="963" y="189" width="5" height="22" fill="#000" />
<rect x="973" y="204" width="1" height="20" fill="#000" />
<rect x="971" y="210" width="5" height="7" fill="#000" />
<rect x="981" y="206" width="1" height="19" fill="#000" />
<rect x="979" y="207" width="5" height="10" fill="#000" />
<rect x="980" y="208" width="3" height="8" fill="#fff" />
<rect x="989" y="193" width="1" height="21" fill="#000" />
<rect x="987" y="193" width="5" height="15" fill="#000" />
<rect x="988" y="194" width="3" height="13" fill="#fff" />
<rect x="997" y="186" width="1" height="16" fill="#000" />
<rect x="995" y="190" width="5" height="5" fill="#000" />
<rect x="996" y="191" width="3" height="3" fill="#fff" />
<rect x="1005" y="188" width="1" height="22" fill="#000" />
<rect x="1003" y="190" width="5" height="20" fill="#000" />
<rect x="1013" y="200" width="1" height="25" fill="#000" />
<rect x="1011" y="209" width="5" height="11" fill="#000" />
<rect x="1021" y="176" width="1" height="76" fill="#000" />
<rect x="1019" y="183" width="5" height="36" fill="#000" />
<rect x="1020" y="184" width="3" height="34" fill="#fff" />
<rect x="1029" y="171" width="1" height="19" fill="#000" />
<rect x="1027" y="184" width="5" height="1" fill="#000" />
<rect x="1037" y="181" width="1" height="12" fill="#000" />
<rect x="1035" y="185" width="5" height="1" fill="#000" />
<rect x="1045" y="179" width="1" height="11" fill="#000" />
<rect x="1043" y="181" width="5" height="6" fill="#000" />
<rect x="1044" y="182" width="3" height="4" fill="#fff" />
<rect x="1053" y="143" width="1" height="39" fill="#000" />
<rect x="1051" y="154" width="5" height="27" fill="#000" />
<rect x="1052" y="155" width="3" height="25" fill="#fff" />
<rect x="1061" y="113" width="1" height="48" fill="#000" />
<rect x="1059" y="127" width="5" height="27" fill="#000" />
<rect x="1060" y="128" width="3" height="25" fill="#fff" />
<rect x="1069" y="111" width="1" height="26" fill="#000" />
<rect x="1067" y="111" width="5" height="16" fill="#000" />
<rect x="1068" y="112" width="3" height="14" fill="#fff" />
<rect x="1077" y="97" width="1" height="17" fill="#000" />
<rect x="1075" y="100" width="5" height="12" fill="#000" />
<rect x="1076" y="101" width="3" height="10" fill="#fff" />
<rect x="1085" y="110" width="1" height="6" fill="#000" />
<rect x="1083" y="112" width="5" height="4" fill="#000" />
<rect x="1093" y="114" width="1" height="25" fill="#000" />
<rect x="1091" y="116" width="5" height="9" fill="#000" />
<rect x="1101" y="118" width="1" height="22" fill="#000" />
<rect x="1099" y="124" width="5" height="7" fill="#000" />
<rect x="1109" y="129" width="1" height="30" fill="#000" />
<rect x="1107" y="130" width="5" height="19" fill="#000" />
<rect x="1117" y="128" width="1" height="31" fill="#000" />
<rect x="1115" y="146" width="5" height="3" fill="#000" />
<rect x="1116" y="147" width="3" height="1" fill="#fff" />
<rect x="1125" y="135" width="1" height="16" fill="#000" />
<rect x="1123" y="135" width="5" height="12" fill="#000" />
<rect x="1124" y="136" width="3" height="10" fill="#fff" />
<rect x="1133" y="128" width="1" height="9" fill="#000" />
<rect x="1131" y="131" width="5" height="5" fill="#000" />
<rect x="1132" y="132" width="3" height="3" fill="#fff" />
<rect x="1141" y="122" width="1" height="21" fill="#000" />
<rect x="1139" y="132" width="5" height="7" fill="#000" />
<rect x="1149" y="125" width="1" height="29" fill="#000" />
<rect x="1147" y="138" width="5" height="12" fill="#000" />
<rect x="1157" y="132" width="1" height="18" fill="#000" />
<rect x="1155" y="135" width="5" height="15" fill="#000" />
<rect x="1156" y="136" width="3" height="13" fill="#fff" />
<rect x="1165" y="87" width="1" height="56" fill="#000" />
<rect x="1163" y="92" width="5" height="43" fill="#000" />
<rect x="1164" y="93" width="3" height="41" fill="#fff" />
<rect x="1173" y="74" width="1" height="23" fill="#000" />
<rect x="1171" y="87" width="5" height="5" fill="#000" />
<rect x="1172" y="88" width="3" height="3" fill="#fff" />
<rect x="1181" y="86" width="1" height="7" fill="#000" />
<rect x="1179" y="86" width="5" height="4" fill="#000" />
<rect x="1189" y="84" width="1" height="11" fill="#000" />
<rect x="1187" y="89" width="5" height="5" fill="#000" />
<rect x="1197" y="85" width="1" height="21" fill="#000" />
<rect x="1195" y="93" width="5" height="7" fill="#000" />
<rect x="1205" y="96" width="1" height="24" fill="#000" />
<rect x="1203" y="100" width="5" height="12" fill="#000" />
<rect x="1213" y="88" width="1" height="27" fill="#000" />
<rect x="1211" y="99" width="5" height="13" fill="#000" />
<rect x="1212" y="100" width="3" height="11" fill="#fff" />
<rect x="1221" y="60" width="1" height="46" fill="#000" />
<rect x="1219" y="77" width="5" height="22" fill="#000" />
<rect x="1220" y="78" width="3" height="20" fill="#fff" />
<rect x="1229" y="72" width="1" height="16" fill="#000" />
<rect x="1227" y="76" width="5" height="10" fill="#000" />
<rect x="1237" y="83" width="1" height="47" fill="#000" />
<rect x="1235" y="85" width="5" height="40" fill="#000" />
<rect x="1245" y="101" width="1" height="26" fill="#000" />
<rect x="1243" y="109" width="5" height="16" fill="#000" />
<rect x="1244" y="110" width="3" height="14" fill="#fff" />
<rect x="1253" y="95" width="1" height="43" fill="#000" />
<rect x="1251" y="109" width="5" height="1" fill="#000" />
<rect x="1261" y="99" width="1" height="25" fill="#000" />
<rect x="1259" y="109" width="5" height="1" fill="#000" />
<rect x="1269" y="69" width="1" height="41" fill="#000" />
<rect x="1267" y="82" width="5" height="28" fill="#000" />
<rect x="1268" y="83" width="3" height="26" fill="#fff" />
<rect x="1277" y="77" width="1" height="8" fill="#000" />
<rect x="1275" y="80" width="5" height="3" fill="#000" />
<rect x="1276" y="81" width="3" height="1" fill="#fff" />
<rect x="1285" y="71" width="1" height="19" fill="#000" />
<rect x="1283" y="75" width="5" height="3" fill="#000" />
<rect x="1284" y="76" width="3" height="1" fill="#fff" />
<rect x="1293" y="56" width="1" height="26" fill="#000" />
<rect x="1291" y="61" width="5" height="14" fill="#000" />
<rect x="1292" y="62" width="3" height="12" fill="#fff" />
<rect x="1301" y="59" width="1" height="51" fill="#000" />
<rect x="1299" y="60" width="5" height="48" fill="#000" />
<rect x="1309" y="95" width="1" height="28" fill="#000" />
<rect x="1307" y="107" width="5" height="1" fill="#000" />
<rect x="1317" y="106" width="1" height="29" fill="#000" />
<rect x="1315" y="107" width="5" height="28" fill="#000" />
<rect x="1234" y="110" width="105" height="8" fill="#00ff00" />
</g>
<rect x="1619" y="74" width="6" height="6" fill="#ff4500" />
<rect x="1621" y="76" width="2" height="2" fill="#fff" />
<rect x="1619" y="93" width="6" height="6" fill="#ff0000" />
<rect x="1621" y="95" width="2" height="2" fill="#fff" />
<rect x="1619" y="113" width="6" height="6" fill="#32cd32" />
<rect x="1621" y="115" width="2" height="2" fill="#fff" />
<rect x="1619" y="152" width="6" height="6" fill="#0000ff" />
<rect x="1621" y="154" width="2" height="2" fill="#fff" />
<rect x="1619" y="172" width="6" height="6" fill="#0000ff" />
<rect x="1621" y="174" width="2" height="2" fill="#fff" />
<rect x="0" y="113" width="2" height="6" fill="#32cd32" />
<rect x="0" y="152" width="2" height="6" fill="#0000ff" />
<rect x="0" y="172" width="2" height="6" fill="#0000ff" />
<rect x="1438" y="115" width="10" height="1" fill="#ff0000" />
<rect x="1448.5" y="100.5" width="99" height="32" fill="#fff" stroke="#ff0000" stroke-width="1"/>
<rect x="1445" y="114" width="3" height="3" fill="#ff0000" />
<rect x="1446" y="115" width="1" height="1" fill="#fff" />
<text x="1451.5" y="127" font-size="29" fill="#ff0000" text-anchor="start" font-weight="normal" font-family='"Liberation Sans", "Noto Sans CJK SC", sans-serif' textLength="94" lengthAdjust="spacingAndGlyphs">134.628</text>
<text x="1380" y="216" font-size="33" fill="#00ff00" font-weight="600" font-family='"Liberation Serif", "Noto Serif CJK SC", serif' style="text-shadow:1px 1px 0 #000">多空转折点</text>
<rect x="1626" y="34" width="2" height="1" fill="#000" />
<text x="1631" y="37.5" font-size="10" fill="#000" text-anchor="start" font-weight="normal" font-family='"Liberation Sans", "Noto Sans CJK SC", sans-serif' letter-spacing="-0.5" >136.135</text>
<rect x="1626" y="67" width="2" height="1" fill="#000" />
<text x="1631" y="70.5" font-size="10" fill="#000" text-anchor="start" font-weight="normal" font-family='"Liberation Sans", "Noto Sans CJK SC", sans-serif' letter-spacing="-0.5" >135.535</text>
<rect x="1626" y="100" width="2" height="1" fill="#000" />
<text x="1631" y="103.5" font-size="10" fill="#000" text-anchor="start" font-weight="normal" font-family='"Liberation Sans", "Noto Sans CJK SC", sans-serif' letter-spacing="-0.5" >134.920</text>
<rect x="1626" y="166" width="2" height="1" fill="#000" />
<text x="1631" y="169.5" font-size="10" fill="#000" text-anchor="start" font-weight="normal" font-family='"Liberation Sans", "Noto Sans CJK SC", sans-serif' letter-spacing="-0.5" >133.720</text>
<rect x="1626" y="199" width="2" height="1" fill="#000" />
<text x="1631" y="202.5" font-size="10" fill="#000" text-anchor="start" font-weight="normal" font-family='"Liberation Sans", "Noto Sans CJK SC", sans-serif' letter-spacing="-0.5" >133.120</text>
<rect x="1626" y="232" width="2" height="1" fill="#000" />
<text x="1631" y="235.5" font-size="10" fill="#000" text-anchor="start" font-weight="normal" font-family='"Liberation Sans", "Noto Sans CJK SC", sans-serif' letter-spacing="-0.5" >132.505</text>
<rect x="1626" y="265" width="2" height="1" fill="#000" />
<text x="1631" y="268.5" font-size="10" fill="#000" text-anchor="start" font-weight="normal" font-family='"Liberation Sans", "Noto Sans CJK SC", sans-serif' letter-spacing="-0.5" >131.905</text>
<rect x="1626" y="298" width="2" height="1" fill="#000" />
<text x="1631" y="301.5" font-size="10" fill="#000" text-anchor="start" font-weight="normal" font-family='"Liberation Sans", "Noto Sans CJK SC", sans-serif' letter-spacing="-0.5" >131.305</text>
<rect x="1626" y="331" width="2" height="1" fill="#000" />
<text x="1631" y="334.5" font-size="10" fill="#000" text-anchor="start" font-weight="normal" font-family='"Liberation Sans", "Noto Sans CJK SC", sans-serif' letter-spacing="-0.5" >130.705</text>
<rect x="1626" y="364" width="2" height="1" fill="#000" />
<text x="1631" y="367.5" font-size="10" fill="#000" text-anchor="start" font-weight="normal" font-family='"Liberation Sans", "Noto Sans CJK SC", sans-serif' letter-spacing="-0.5" >130.090</text>
<rect x="1626" y="397" width="2" height="1" fill="#000" />
<text x="1631" y="400.5" font-size="10" fill="#000" text-anchor="start" font-weight="normal" font-family='"Liberation Sans", "Noto Sans CJK SC", sans-serif' letter-spacing="-0.5" >129.490</text>
<rect x="1626" y="430" width="2" height="1" fill="#000" />
<text x="1631" y="433.5" font-size="10" fill="#000" text-anchor="start" font-weight="normal" font-family='"Liberation Sans", "Noto Sans CJK SC", sans-serif' letter-spacing="-0.5" >128.890</text>
<rect x="1626" y="463" width="2" height="1" fill="#000" />
<text x="1631" y="466.5" font-size="10" fill="#000" text-anchor="start" font-weight="normal" font-family='"Liberation Sans", "Noto Sans CJK SC", sans-serif' letter-spacing="-0.5" >128.290</text>
<rect x="1626" y="496" width="2" height="1" fill="#000" />
<text x="1631" y="499.5" font-size="10" fill="#000" text-anchor="start" font-weight="normal" font-family='"Liberation Sans", "Noto Sans CJK SC", sans-serif' letter-spacing="-0.5" >127.675</text>
<rect x="1626" y="529" width="2" height="1" fill="#000" />
<text x="1631" y="532.5" font-size="10" fill="#000" text-anchor="start" font-weight="normal" font-family='"Liberation Sans", "Noto Sans CJK SC", sans-serif' letter-spacing="-0.5" >127.075</text>
<rect x="1626" y="562" width="2" height="1" fill="#000" />
<text x="1631" y="565.5" font-size="10" fill="#000" text-anchor="start" font-weight="normal" font-family='"Liberation Sans", "Noto Sans CJK SC", sans-serif' letter-spacing="-0.5" >126.475</text>
<rect x="1627" y="71" width="41" height="11" fill="#ff4500" />
<text x="1631.5" y="80" font-size="10" fill="#fff" text-anchor="start" font-weight="normal" font-family='"Liberation Sans", "Noto Sans CJK SC", sans-serif' letter-spacing="-0.5" >135.340</text>
<rect x="1627" y="90" width="41" height="11" fill="#ff0000" />
<text x="1631.5" y="99" font-size="10" fill="#fff" text-anchor="start" font-weight="normal" font-family='"Liberation Sans", "Noto Sans CJK SC", sans-serif' letter-spacing="-0.5" >134.993</text>
<rect x="1627" y="110" width="41" height="11" fill="#32cd32" />
<text x="1631.5" y="119" font-size="10" fill="#fff" text-anchor="start" font-weight="normal" font-family='"Liberation Sans", "Noto Sans CJK SC", sans-serif' letter-spacing="-0.5" >134.628</text>
<rect x="1627" y="129" width="41" height="11" fill="#000000" />
<text x="1631.5" y="138" font-size="10" fill="#fff" text-anchor="start" font-weight="normal" font-family='"Liberation Sans", "Noto Sans CJK SC", sans-serif' letter-spacing="-0.5" >134.300</text>
<rect x="1627" y="149" width="41" height="11" fill="#0000ff" />
<text x="1631.5" y="158" font-size="10" fill="#fff" text-anchor="start" font-weight="normal" font-family='"Liberation Sans", "Noto Sans CJK SC", sans-serif' letter-spacing="-0.5" >133.916</text>
<rect x="1627" y="169" width="41" height="11" fill="#0000ff" />
<text x="1631.5" y="178" font-size="10" fill="#fff" text-anchor="start" font-weight="normal" font-family='"Liberation Sans", "Noto Sans CJK SC", sans-serif' letter-spacing="-0.5" >133.551</text>
<path d="M0,41 L3.5,37 L7,41 Z" fill="#000"/>
<text x="12" y="42" font-size="10" fill="#000" text-anchor="start" font-weight="normal" font-family='"Liberation Sans", "Noto Sans CJK SC", sans-serif' letter-spacing="-0.35" >GBPJPY-,H4&#160;&#160;134.801 134.824 134.281 134.300</text>
<defs>
<linearGradient id="gtop" x1="0" y1="0" x2="0" y2="1"><stop offset="0" stop-color="#f45a5a"/><stop offset="1" stop-color="#dc3232"/></linearGradient>
<linearGradient id="gbig" x1="0" y1="0" x2="0" y2="1"><stop offset="0" stop-color="#d92a2a"/><stop offset="1" stop-color="#a80000"/></linearGradient>
<linearGradient id="gbtn" x1="0" y1="0" x2="0" y2="1"><stop offset="0" stop-color="#f2f2f2"/><stop offset="1" stop-color="#dcdcdc"/></linearGradient>
</defs>
<rect x="0" y="48" width="221" height="68" fill="#ffffff" />
<rect x="0" y="50" width="52" height="24" fill="url(#gtop)" />
<rect x="0" y="50" width="52" height="1" fill="#c81e1e" />
<rect x="4" y="73" width="44" height="1" fill="#8c1010" />
<rect x="167" y="50" width="52" height="24" fill="url(#gtop)" />
<rect x="167" y="50" width="52" height="1" fill="#c81e1e" />
<rect x="171" y="73" width="44" height="1" fill="#8c1010" />
<rect x="0" y="74" width="110" height="40" fill="url(#gbig)" />
<rect x="111" y="74" width="108" height="40" fill="url(#gbig)" />
<rect x="218" y="50" width="1" height="64" fill="#a80000" />
<rect x="4" y="74" width="44" height="1" fill="#e86a6a" />
<rect x="171" y="74" width="44" height="1" fill="#e86a6a" />
<rect x="54.5" y="50.5" width="110" height="21" fill="#fff" stroke="#a8a8a8"/>
<rect x="55" y="51" width="20" height="20" fill="url(#gbtn)"/>
<rect x="144" y="51" width="20" height="20" fill="url(#gbtn)"/>
<rect x="75" y="51" width="1" height="20" fill="#b4b4b4" />
<rect x="143" y="51" width="1" height="20" fill="#b4b4b4" />
<path d="M62,59 L68,59 L65,62 Z" fill="#000"/>
<path d="M151,62 L157,62 L154,59 Z" fill="#000"/>
<text x="140" y="65" font-size="12.5" fill="#000" text-anchor="end" font-weight="normal" font-family='"Liberation Sans", "Noto Sans CJK SC", sans-serif' >1.00</text>
<text x="12.5" y="66" font-size="12.5" fill="#fff" text-anchor="start" font-weight="normal" font-family='"Liberation Sans", "Noto Sans CJK SC", sans-serif' textLength="26" lengthAdjust="spacingAndGlyphs">SELL</text>
<text x="180.5" y="66" font-size="12.5" fill="#fff" text-anchor="start" font-weight="normal" font-family='"Liberation Sans", "Noto Sans CJK SC", sans-serif' textLength="24" lengthAdjust="spacingAndGlyphs">BUY</text>
<text x="23" y="105" font-size="12.5" fill="#fff" text-anchor="start" font-weight="bold" font-family='"Liberation Sans", "Noto Sans CJK SC", sans-serif' >134</text>
<text x="47.5" y="105" font-size="32.5" fill="#fff" text-anchor="start" font-weight="normal" font-family='"Liberation Sans", "Noto Sans CJK SC", sans-serif' >30</text>
<text x="86.5" y="89" font-size="11" fill="#fff" text-anchor="start" font-weight="bold" font-family='"Liberation Sans", "Noto Sans CJK SC", sans-serif' >0</text>
<text x="133.5" y="105" font-size="12.5" fill="#fff" text-anchor="start" font-weight="bold" font-family='"Liberation Sans", "Noto Sans CJK SC", sans-serif' >134</text>
<text x="158.5" y="105" font-size="32.5" fill="#fff" text-anchor="start" font-weight="normal" font-family='"Liberation Sans", "Noto Sans CJK SC", sans-serif' >34</text>
<text x="197" y="89" font-size="11" fill="#fff" text-anchor="start" font-weight="bold" font-family='"Liberation Sans", "Noto Sans CJK SC", sans-serif' >4</text>
<path d="M1326,31 L1335,31 L1330.5,36 Z" fill="#c0c0c0"/>
<g clip-path="url(#cmacd)">
<rect x="5" y="688" width="1" height="18" fill="#c0c0c0" />
<rect x="13" y="688" width="1" height="19" fill="#c0c0c0" />
<rect x="21" y="688" width="1" height="19" fill="#c0c0c0" />
<rect x="29" y="688" width="1" height="19" fill="#c0c0c0" />
<rect x="37" y="688" width="1" height="21" fill="#c0c0c0" />
<rect x="45" y="688" width="1" height="14" fill="#c0c0c0" />
<rect x="53" y="688" width="1" height="4" fill="#c0c0c0" />
<rect x="61" y="686" width="1" height="3" fill="#c0c0c0" />
<rect x="69" y="683" width="1" height="6" fill="#c0c0c0" />
<rect x="77" y="682" width="1" height="7" fill="#c0c0c0" />
<rect x="85" y="680" width="1" height="9" fill="#c0c0c0" />
<rect x="93" y="676" width="1" height="13" fill="#c0c0c0" />
<rect x="101" y="666" width="1" height="23" fill="#c0c0c0" />
<rect x="109" y="659" width="1" height="30" fill="#c0c0c0" />
<rect x="117" y="655" width="1" height="34" fill="#c0c0c0" />
<rect x="125" y="649" width="1" height="40" fill="#c0c0c0" />
<rect x="133" y="647" width="1" height="42" fill="#c0c0c0" />
<rect x="141" y="647" width="1" height="42" fill="#c0c0c0" />
<rect x="149" y="647" width="1" height="42" fill="#c0c0c0" />
<rect x="157" y="646" width="1" height="43" fill="#c0c0c0" />
<rect x="165" y="645" width="1" height="44" fill="#c0c0c0" />
<rect x="173" y="646" width="1" height="43" fill="#c0c0c0" />
<rect x="181" y="647" width="1" height="42" fill="#c0c0c0" />
<rect x="189" y="654" width="1" height="35" fill="#c0c0c0" />
<rect x="197" y="663" width="1" height="26" fill="#c0c0c0" />
<rect x="205" y="662" width="1" height="27" fill="#c0c0c0" />
<rect x="213" y="661" width="1" height="28" fill="#c0c0c0" />
<rect x="221" y="661" width="1" height="28" fill="#c0c0c0" />
<rect x="229" y="659" width="1" height="30" fill="#c0c0c0" />
<rect x="237" y="660" width="1" height="29" fill="#c0c0c0" />
<rect x="245" y="661" width="1" height="28" fill="#c0c0c0" />
<rect x="253" y="662" width="1" height="27" fill="#c0c0c0" />
<rect x="261" y="662" width="1" height="27" fill="#c0c0c0" />
<rect x="269" y="663" width="1" height="26" fill="#c0c0c0" />
<rect x="277" y="667" width="1" height="22" fill="#c0c0c0" />
<rect x="285" y="669" width="1" height="20" fill="#c0c0c0" />
<rect x="293" y="667" width="1" height="22" fill="#c0c0c0" />
<rect x="301" y="656" width="1" height="33" fill="#c0c0c0" />
<rect x="309" y="648" width="1" height="41" fill="#c0c0c0" />
<rect x="317" y="642" width="1" height="47" fill="#c0c0c0" />
<rect x="325" y="638" width="1" height="51" fill="#c0c0c0" />
<rect x="333" y="639" width="1" height="50" fill="#c0c0c0" />
<rect x="341" y="636" width="1" height="53" fill="#c0c0c0" />
<rect x="349" y="649" width="1" height="40" fill="#c0c0c0" />
<rect x="357" y="657" width="1" height="32" fill="#c0c0c0" />
<rect x="365" y="672" width="1" height="17" fill="#c0c0c0" />
<rect x="373" y="675" width="1" height="14" fill="#c0c0c0" />
<rect x="381" y="676" width="1" height="13" fill="#c0c0c0" />
<rect x="389" y="676" width="1" height="13" fill="#c0c0c0" />
<rect x="397" y="676" width="1" height="13" fill="#c0c0c0" />
<rect x="405" y="676" width="1" height="13" fill="#c0c0c0" />
<rect x="413" y="677" width="1" height="12" fill="#c0c0c0" />
<rect x="421" y="684" width="1" height="5" fill="#c0c0c0" />
<rect x="429" y="684" width="1" height="5" fill="#c0c0c0" />
<rect x="437" y="682" width="1" height="7" fill="#c0c0c0" />
<rect x="445" y="677" width="1" height="12" fill="#c0c0c0" />
<rect x="453" y="675" width="1" height="14" fill="#c0c0c0" />
<rect x="461" y="673" width="1" height="16" fill="#c0c0c0" />
<rect x="469" y="672" width="1" height="17" fill="#c0c0c0" />
<rect x="477" y="675" width="1" height="14" fill="#c0c0c0" />
<rect x="485" y="683" width="1" height="6" fill="#c0c0c0" />
<rect x="493" y="683" width="1" height="6" fill="#c0c0c0" />
<rect x="501" y="683" width="1" height="6" fill="#c0c0c0" />
<rect x="509" y="683" width="1" height="6" fill="#c0c0c0" />
<rect x="517" y="688" width="1" height="1" fill="#c0c0c0" />
<rect x="525" y="688" width="1" height="1" fill="#c0c0c0" />
<rect x="533" y="687" width="1" height="2" fill="#c0c0c0" />
<rect x="541" y="684" width="1" height="5" fill="#c0c0c0" />
<rect x="549" y="684" width="1" height="5" fill="#c0c0c0" />
<rect x="557" y="684" width="1" height="5" fill="#c0c0c0" />
<rect x="565" y="684" width="1" height="5" fill="#c0c0c0" />
<rect x="573" y="685" width="1" height="4" fill="#c0c0c0" />
<rect x="581" y="686" width="1" height="3" fill="#c0c0c0" />
<rect x="589" y="688" width="1" height="1" fill="#c0c0c0" />
<rect x="597" y="688" width="1" height="5" fill="#c0c0c0" />
<rect x="605" y="688" width="1" height="10" fill="#c0c0c0" />
<rect x="613" y="688" width="1" height="12" fill="#c0c0c0" />
<rect x="621" y="688" width="1" height="17" fill="#c0c0c0" />
<rect x="629" y="688" width="1" height="26" fill="#c0c0c0" />
<rect x="637" y="688" width="1" height="35" fill="#c0c0c0" />
<rect x="645" y="688" width="1" height="43" fill="#c0c0c0" />
<rect x="653" y="688" width="1" height="47" fill="#c0c0c0" />
<rect x="661" y="688" width="1" height="54" fill="#c0c0c0" />
<rect x="669" y="688" width="1" height="68" fill="#c0c0c0" />
<rect x="677" y="688" width="1" height="70" fill="#c0c0c0" />
<rect x="685" y="688" width="1" height="68" fill="#c0c0c0" />
<rect x="693" y="688" width="1" height="64" fill="#c0c0c0" />
<rect x="701" y="688" width="1" height="62" fill="#c0c0c0" />
<rect x="709" y="688" width="1" height="56" fill="#c0c0c0" />
<rect x="717" y="688" width="1" height="43" fill="#c0c0c0" />
<rect x="725" y="688" width="1" height="26" fill="#c0c0c0" />
<rect x="733" y="688" width="1" height="13" fill="#c0c0c0" />
<rect x="741" y="686" width="1" height="3" fill="#c0c0c0" />
<rect x="749" y="671" width="1" height="18" fill="#c0c0c0" />
<rect x="757" y="657" width="1" height="32" fill="#c0c0c0" />
<rect x="765" y="646" width="1" height="43" fill="#c0c0c0" />
<rect x="773" y="627" width="1" height="62" fill="#c0c0c0" />
<rect x="781" y="609" width="1" height="80" fill="#c0c0c0" />
<rect x="789" y="595" width="1" height="94" fill="#c0c0c0" />
<rect x="797" y="586" width="1" height="103" fill="#c0c0c0" />
<rect x="805" y="579" width="1" height="110" fill="#c0c0c0" />
<rect x="813" y="579" width="1" height="110" fill="#c0c0c0" />
<rect x="821" y="579" width="1" height="110" fill="#c0c0c0" />
<rect x="829" y="584" width="1" height="105" fill="#c0c0c0" />
<rect x="837" y="589" width="1" height="100" fill="#c0c0c0" />
<rect x="845" y="595" width="1" height="94" fill="#c0c0c0" />
<rect x="853" y="602" width="1" height="87" fill="#c0c0c0" />
<rect x="861" y="608" width="1" height="81" fill="#c0c0c0" />
<rect x="869" y="603" width="1" height="86" fill="#c0c0c0" />
<rect x="877" y="597" width="1" height="92" fill="#c0c0c0" />
<rect x="885" y="595" width="1" height="94" fill="#c0c0c0" />
<rect x="893" y="593" width="1" height="96" fill="#c0c0c0" />
<rect x="901" y="592" width="1" height="97" fill="#c0c0c0" />
<rect x="909" y="597" width="1" height="92" fill="#c0c0c0" />
<rect x="917" y="597" width="1" height="92" fill="#c0c0c0" />
<rect x="925" y="597" width="1" height="92" fill="#c0c0c0" />
<rect x="933" y="597" width="1" height="92" fill="#c0c0c0" />
<rect x="941" y="596" width="1" height="93" fill="#c0c0c0" />
<rect x="949" y="595" width="1" height="94" fill="#c0c0c0" />
<rect x="957" y="593" width="1" height="96" fill="#c0c0c0" />
<rect x="965" y="596" width="1" height="93" fill="#c0c0c0" />
<rect x="973" y="601" width="1" height="88" fill="#c0c0c0" />
<rect x="981" y="604" width="1" height="85" fill="#c0c0c0" />
<rect x="989" y="605" width="1" height="84" fill="#c0c0c0" />
<rect x="997" y="606" width="1" height="83" fill="#c0c0c0" />
<rect x="1005" y="611" width="1" height="78" fill="#c0c0c0" />
<rect x="1013" y="618" width="1" height="71" fill="#c0c0c0" />
<rect x="1021" y="617" width="1" height="72" fill="#c0c0c0" />
<rect x="1029" y="618" width="1" height="71" fill="#c0c0c0" />
<rect x="1037" y="619" width="1" height="70" fill="#c0c0c0" />
<rect x="1045" y="620" width="1" height="69" fill="#c0c0c0" />
<rect x="1053" y="616" width="1" height="73" fill="#c0c0c0" />
<rect x="1061" y="609" width="1" height="80" fill="#c0c0c0" />
<rect x="1069" y="601" width="1" height="88" fill="#c0c0c0" />
<rect x="1077" y="593" width="1" height="96" fill="#c0c0c0" />
<rect x="1085" y="592" width="1" height="97" fill="#c0c0c0" />
<rect x="1093" y="593" width="1" height="96" fill="#c0c0c0" />
<rect x="1101" y="597" width="1" height="92" fill="#c0c0c0" />
<rect x="1109" y="604" width="1" height="85" fill="#c0c0c0" />
<rect x="1117" y="610" width="1" height="79" fill="#c0c0c0" />
<rect x="1125" y="614" width="1" height="75" fill="#c0c0c0" />
<rect x="1133" y="617" width="1" height="72" fill="#c0c0c0" />
<rect x="1141" y="621" width="1" height="68" fill="#c0c0c0" />
<rect x="1149" y="628" width="1" height="61" fill="#c0c0c0" />
<rect x="1157" y="631" width="1" height="58" fill="#c0c0c0" />
<rect x="1165" y="625" width="1" height="64" fill="#c0c0c0" />
<rect x="1173" y="621" width="1" height="68" fill="#c0c0c0" />
<rect x="1181" y="618" width="1" height="71" fill="#c0c0c0" />
<rect x="1189" y="618" width="1" height="71" fill="#c0c0c0" />
<rect x="1197" y="620" width="1" height="69" fill="#c0c0c0" />
<rect x="1205" y="625" width="1" height="64" fill="#c0c0c0" />
<rect x="1213" y="626" width="1" height="63" fill="#c0c0c0" />
<rect x="1221" y="624" width="1" height="65" fill="#c0c0c0" />
<rect x="1229" y="625" width="1" height="64" fill="#c0c0c0" />
<rect x="1237" y="634" width="1" height="55" fill="#c0c0c0" />
<rect x="1245" y="639" width="1" height="50" fill="#c0c0c0" />
<rect x="1253" y="644" width="1" height="45" fill="#c0c0c0" />
<rect x="1261" y="648" width="1" height="41" fill="#c0c0c0" />
<rect x="1269" y="646" width="1" height="43" fill="#c0c0c0" />
<rect x="1277" y="644" width="1" height="45" fill="#c0c0c0" />
<rect x="1285" y="642" width="1" height="47" fill="#c0c0c0" />
<rect x="1293" y="638" width="1" height="51" fill="#c0c0c0" />
<rect x="1301" y="645" width="1" height="44" fill="#c0c0c0" />
<rect x="1309" y="651" width="1" height="38" fill="#c0c0c0" />
<rect x="1317" y="662" width="1" height="27" fill="#c0c0c0" />
<polyline points="0.0,741.0 2.5,738.3 27.6,715.7 52.8,704.9 70.3,699.4 95.5,688.8 118.0,673.0 150.7,656.7 175.8,647.9 191.0,647.1 218.5,652.1 251.0,659.2 276.0,661.2 301.0,662.2 326.5,656.7 356.7,647.9 381.8,651.6 400.0,662.4 422.6,673.7 442.7,678.0 465.3,677.5 513.0,677.5 525.6,680.5 540.7,683.5 601.0,684.3 621.0,690.6 641.0,700.6 661.0,715.7 681.3,733.3 701.4,743.8 714.0,747.1 731.6,740.8 751.7,720.7 771.8,688.0 791.9,650.4 806.9,626.5 820.0,606.4 837.7,589.6 845.2,587.6 857.8,587.6 875.4,592.1 882.9,593.9 908.0,597.1 925.6,597.1 940.7,595.1 955.7,594.1 975.8,596.4 1001.0,599.4 1021.0,605.7 1046.0,612.2 1061.0,614.5 1073.8,612.7 1086.4,608.2 1101.4,603.2 1124.0,600.6 1139.0,602.2 1156.7,612.2 1176.8,619.7 1191.9,620.7 1207.0,623.3 1218.2,622.0 1230.0,621.5 1242.7,623.3 1252.8,627.3 1265.3,632.8 1275.4,636.1 1288.0,637.8 1295.5,639.1 1305.5,641.6 1314.3,644.9" fill="none" stroke="#ff0000" stroke-width="1" stroke-dasharray="3 3"/>
</g>
<text x="1" y="580" font-size="10" fill="#000" text-anchor="start" font-weight="normal" font-family='"Liberation Sans", "Noto Sans CJK SC", sans-serif' letter-spacing="-0.3" >MACD(12,26,9) 0.2012 0.3127</text>
<rect x="1626" y="569" width="2" height="1" fill="#000" />
<text x="1629" y="577.5" font-size="10" fill="#000" text-anchor="start" font-weight="normal" font-family='"Liberation Sans", "Noto Sans CJK SC", sans-serif' letter-spacing="-0.5" >0.885</text>
<rect x="1626" y="688" width="2" height="1" fill="#000" />
<text x="1629" y="691.5" font-size="10" fill="#000" text-anchor="start" font-weight="normal" font-family='"Liberation Sans", "Noto Sans CJK SC", sans-serif' letter-spacing="-0.5" >0.00</text>
<rect x="1626" y="767" width="2" height="1" fill="#000" />
<text x="1629" y="765.5" font-size="10" fill="#000" text-anchor="start" font-weight="normal" font-family='"Liberation Sans", "Noto Sans CJK SC", sans-serif' letter-spacing="-0.5" >-0.5882</text>
<line x1="-2" y1="803.5" x2="1625" y2="803.5" stroke="#c0c0c0" stroke-width="1" stroke-dasharray="3 3" stroke-dashoffset="0"/>
<line x1="-2" y1="850.5" x2="1625" y2="850.5" stroke="#c0c0c0" stroke-width="1" stroke-dasharray="3 3" stroke-dashoffset="0"/>
<line x1="-2" y1="906.5" x2="1625" y2="906.5" stroke="#c0c0c0" stroke-width="1" stroke-dasharray="3 3" stroke-dashoffset="0"/>
<g clip-path="url(#crsi)">
<polyline points="0.0,848.9 5.5,857.3 13.5,858.3 21.5,857.5 29.5,857.5 37.5,858.3 45.5,844.4 53.5,836.4 61.5,842.2 69.5,844.1 77.5,847.4 85.5,845.2 93.5,839.4 101.5,828.5 109.5,831.0 117.5,832.3 125.5,828.2 133.5,832.7 141.5,837.2 149.5,835.2 157.5,834.4 165.5,831.3 173.5,836.4 181.5,834.4 189.5,852.8 197.5,858.3 205.5,840.2 213.5,840.2 221.5,840.2 229.5,835.2 237.5,841.9 245.5,844.4 253.5,840.2 261.5,841.1 269.5,841.1 277.5,849.4 285.5,846.1 293.5,837.7 301.5,820.5 309.5,819.6 317.5,819.6 325.5,822.6 333.5,831.3 341.5,824.8 349.5,859.0 357.5,853.3 365.5,866.2 373.5,851.6 381.5,849.1 389.5,847.4 397.5,847.4 405.5,846.4 413.5,850.3 421.5,859.1 429.5,848.9 437.5,844.9 445.5,841.4 453.5,843.6 461.5,844.4 469.5,843.2 477.5,850.3 485.5,861.2 493.5,848.6 501.5,849.1 509.5,850.3 517.5,857.5 525.5,854.1 533.5,844.4 541.5,843.6 549.5,847.3 557.5,848.3 565.5,849.4 573.5,848.6 581.5,851.4 589.5,858.6 597.5,862.8 605.5,865.3 613.5,864.2 621.5,868.7 629.5,877.9 637.5,884.1 645.5,884.1 653.5,883.3 661.5,886.8 669.5,899.2 677.5,876.6 685.5,866.7 693.5,863.3 701.5,866.2 709.5,858.6 717.5,842.7 725.5,834.4 733.5,834.4 741.5,826.8 749.5,825.1 757.5,821.3 765.5,821.3 773.5,810.4 781.5,807.2 789.5,807.2 797.5,807.2 805.5,807.2 813.5,816.3 821.5,816.3 829.5,826.3 837.5,826.3 845.5,826.3 853.5,832.2 861.5,832.2 869.5,815.9 877.5,812.2 885.5,817.1 893.5,815.4 901.5,814.3 909.5,828.5 917.5,822.6 925.5,821.3 933.5,818.4 941.5,816.4 949.5,814.6 957.5,811.2 965.5,824.0 973.5,828.2 981.5,824.3 989.5,821.3 997.5,820.5 1005.5,832.2 1013.5,838.2 1021.5,825.5 1029.5,826.3 1037.5,827.3 1045.5,825.5 1053.5,816.8 1061.5,811.2 1069.5,807.2 1077.5,805.4 1085.5,816.7 1093.5,821.0 1101.5,824.3 1109.5,834.4 1117.5,834.4 1125.5,830.2 1133.5,828.5 1141.5,833.2 1149.5,838.9 1157.5,834.7 1165.5,820.1 1173.5,818.4 1181.5,821.3 1189.5,823.1 1197.5,826.5 1205.5,835.2 1213.5,830.5 1221.5,822.3 1229.5,827.7 1237.5,848.3 1245.5,842.4 1253.5,846.1 1261.5,841.9 1269.5,833.5 1277.5,832.2 1285.5,830.2 1293.5,826.3 1301.5,848.3 1309.5,849.4 1317.5,858.3" fill="none" stroke="#1e90ff" stroke-width="1" />
</g>
<text x="1" y="783.5" font-size="10" fill="#000" text-anchor="start" font-weight="normal" font-family='"Liberation Sans", "Noto Sans CJK SC", sans-serif' letter-spacing="-0.3" >RSI(14) 44.7514</text>
<text x="1629" y="782.0" font-size="10" fill="#000" text-anchor="start" font-weight="normal" font-family='"Liberation Sans", "Noto Sans CJK SC", sans-serif' letter-spacing="-0.5" >100</text>
<text x="1627.5" y="807.0" font-size="10" fill="#000" text-anchor="start" font-weight="normal" font-family='"Liberation Sans", "Noto Sans CJK SC", sans-serif' letter-spacing="-0.5" >80</text>
<text x="1627.5" y="854.0" font-size="10" fill="#000" text-anchor="start" font-weight="normal" font-family='"Liberation Sans", "Noto Sans CJK SC", sans-serif' letter-spacing="-0.5" >50</text>
<text x="1627.5" y="910.0" font-size="10" fill="#000" text-anchor="start" font-weight="normal" font-family='"Liberation Sans", "Noto Sans CJK SC", sans-serif' letter-spacing="-0.5" >15</text>
<text x="1629" y="927.0" font-size="10" fill="#000" text-anchor="start" font-weight="normal" font-family='"Liberation Sans", "Noto Sans CJK SC", sans-serif' letter-spacing="-0.5" >0</text>
<rect x="1626" y="772" width="2" height="1" fill="#000" />
<text x="-4.5" y="943" font-size="10" fill="#000" text-anchor="start" font-weight="normal" font-family='"Liberation Sans", "Noto Sans CJK SC", sans-serif' letter-spacing="-0.2" >14 Aug 2019</text>
<rect x="61" y="931" width="1" height="3" fill="#000" />
<text x="60" y="943" font-size="10" fill="#000" text-anchor="start" font-weight="normal" font-family='"Liberation Sans", "Noto Sans CJK SC", sans-serif' letter-spacing="-0.2" >15 Aug 12:00</text>
<rect x="125" y="931" width="1" height="3" fill="#000" />
<text x="124" y="943" font-size="10" fill="#000" text-anchor="start" font-weight="normal" font-family='"Liberation Sans", "Noto Sans CJK SC", sans-serif' letter-spacing="-0.2" >18 Aug 23:00</text>
<rect x="189" y="931" width="1" height="3" fill="#000" />
<text x="188" y="943" font-size="10" fill="#000" text-anchor="start" font-weight="normal" font-family='"Liberation Sans", "Noto Sans CJK SC", sans-serif' letter-spacing="-0.2" >20 Aug 04:00</text>
<rect x="253" y="931" width="1" height="3" fill="#000" />
<text x="252" y="943" font-size="10" fill="#000" text-anchor="start" font-weight="normal" font-family='"Liberation Sans", "Noto Sans CJK SC", sans-serif' letter-spacing="-0.2" >21 Aug 12:00</text>
<rect x="317" y="931" width="1" height="3" fill="#000" />
<text x="316" y="943" font-size="10" fill="#000" text-anchor="start" font-weight="normal" font-family='"Liberation Sans", "Noto Sans CJK SC", sans-serif' letter-spacing="-0.2" >22 Aug 20:00</text>
<rect x="381" y="931" width="1" height="3" fill="#000" />
<text x="380" y="943" font-size="10" fill="#000" text-anchor="start" font-weight="normal" font-family='"Liberation Sans", "Noto Sans CJK SC", sans-serif' letter-spacing="-0.2" >26 Aug 04:00</text>
<rect x="445" y="931" width="1" height="3" fill="#000" />
<text x="444" y="943" font-size="10" fill="#000" text-anchor="start" font-weight="normal" font-family='"Liberation Sans", "Noto Sans CJK SC", sans-serif' letter-spacing="-0.2" >27 Aug 12:00</text>
<rect x="509" y="931" width="1" height="3" fill="#000" />
<text x="508" y="943" font-size="10" fill="#000" text-anchor="start" font-weight="normal" font-family='"Liberation Sans", "Noto Sans CJK SC", sans-serif' letter-spacing="-0.2" >28 Aug 20:00</text>
<rect x="573" y="931" width="1" height="3" fill="#000" />
<text x="572" y="943" font-size="10" fill="#000" text-anchor="start" font-weight="normal" font-family='"Liberation Sans", "Noto Sans CJK SC", sans-serif' letter-spacing="-0.2" >30 Aug 04:00</text>
<rect x="637" y="931" width="1" height="3" fill="#000" />
<text x="636" y="943" font-size="10" fill="#000" text-anchor="start" font-weight="normal" font-family='"Liberation Sans", "Noto Sans CJK SC", sans-serif' letter-spacing="-0.2" >2 Sep 12:00</text>
<rect x="701" y="931" width="1" height="3" fill="#000" />
<text x="700" y="943" font-size="10" fill="#000" text-anchor="start" font-weight="normal" font-family='"Liberation Sans", "Noto Sans CJK SC", sans-serif' letter-spacing="-0.2" >3 Sep 20:00</text>
<rect x="765" y="931" width="1" height="3" fill="#000" />
<text x="764" y="943" font-size="10" fill="#000" text-anchor="start" font-weight="normal" font-family='"Liberation Sans", "Noto Sans CJK SC", sans-serif' letter-spacing="-0.2" >5 Sep 04:00</text>
<rect x="829" y="931" width="1" height="3" fill="#000" />
<text x="828" y="943" font-size="10" fill="#000" text-anchor="start" font-weight="normal" font-family='"Liberation Sans", "Noto Sans CJK SC", sans-serif' letter-spacing="-0.2" >6 Sep 12:00</text>
<rect x="893" y="931" width="1" height="3" fill="#000" />
<text x="892" y="943" font-size="10" fill="#000" text-anchor="start" font-weight="normal" font-family='"Liberation Sans", "Noto Sans CJK SC", sans-serif' letter-spacing="-0.2" >9 Sep 20:00</text>
<rect x="957" y="931" width="1" height="3" fill="#000" />
<text x="956" y="943" font-size="10" fill="#000" text-anchor="start" font-weight="normal" font-family='"Liberation Sans", "Noto Sans CJK SC", sans-serif' letter-spacing="-0.2" >11 Sep 04:00</text>
<rect x="1021" y="931" width="1" height="3" fill="#000" />
<text x="1020" y="943" font-size="10" fill="#000" text-anchor="start" font-weight="normal" font-family='"Liberation Sans", "Noto Sans CJK SC", sans-serif' letter-spacing="-0.2" >12 Sep 12:00</text>
<rect x="1085" y="931" width="1" height="3" fill="#000" />
<text x="1084" y="943" font-size="10" fill="#000" text-anchor="start" font-weight="normal" font-family='"Liberation Sans", "Noto Sans CJK SC", sans-serif' letter-spacing="-0.2" >15 Sep 23:00</text>
<rect x="1149" y="931" width="1" height="3" fill="#000" />
<text x="1148" y="943" font-size="10" fill="#000" text-anchor="start" font-weight="normal" font-family='"Liberation Sans", "Noto Sans CJK SC", sans-serif' letter-spacing="-0.2" >17 Sep 04:00</text>
<rect x="1213" y="931" width="1" height="3" fill="#000" />
<text x="1212" y="943" font-size="10" fill="#000" text-anchor="start" font-weight="normal" font-family='"Liberation Sans", "Noto Sans CJK SC", sans-serif' letter-spacing="-0.2" >18 Sep 12:00</text>
<rect x="1277" y="931" width="1" height="3" fill="#000" />
<text x="1276" y="943" font-size="10" fill="#000" text-anchor="start" font-weight="normal" font-family='"Liberation Sans", "Noto Sans CJK SC", sans-serif' letter-spacing="-0.2" >19 Sep 20:00</text>
</svg>
</body></html>
